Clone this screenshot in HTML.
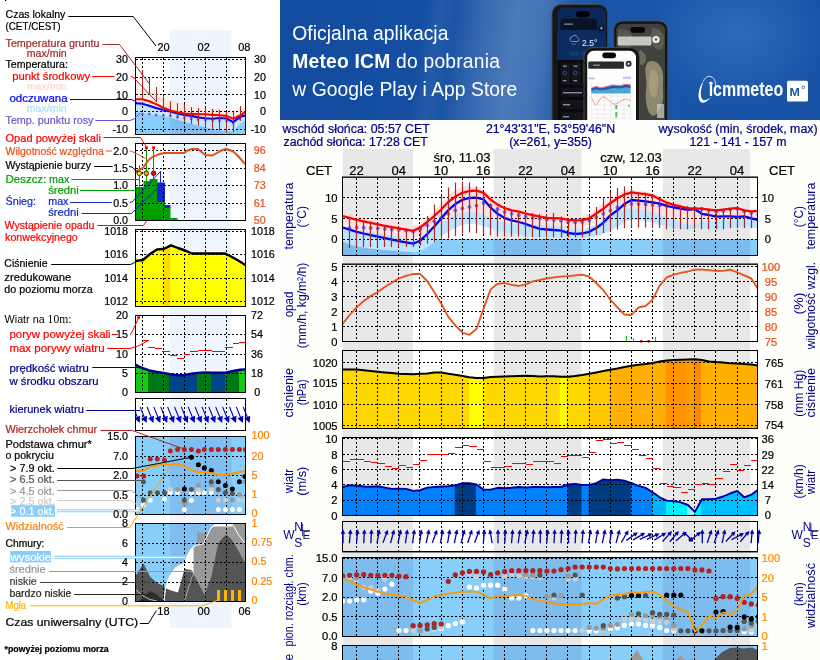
<!DOCTYPE html>
<html><head><meta charset="utf-8"><title>Meteogram</title>
<style>
html,body{margin:0;padding:0;background:#fff;}
body{width:820px;height:660px;overflow:hidden;position:relative;font-family:"Liberation Sans",sans-serif;}
svg text{font-family:"Liberation Sans",sans-serif;stroke-width:0.22px;}
#main{position:absolute;left:0;top:0;will-change:transform;}

#banner{position:absolute;left:280px;top:0;width:540px;height:120px;overflow:hidden;will-change:transform;
 background:
  radial-gradient(ellipse 95px 75px at 458px 34px, rgba(80,140,210,0.42), rgba(80,140,210,0) 100%),
  linear-gradient(98deg, rgba(255,255,255,0) 26%, rgba(255,255,255,0.07) 29%, rgba(255,255,255,0.03) 32%, rgba(255,255,255,0.15) 37%, rgba(255,255,255,0.23) 43%, rgba(255,255,255,0.19) 48%, rgba(255,255,255,0.04) 53%, rgba(255,255,255,0.0) 58%),
  linear-gradient(90deg,#134c9f 0%,#144fa2 35%,#1a56a8 60%,#1752a5 100%);}
#banner .t{position:absolute;left:12.3px;color:#fff;font-size:19.3px;white-space:nowrap;letter-spacing:0.04px;line-height:20px;}
#banner .t b{font-weight:bold;}

</style></head><body>
<svg id="main" width="820" height="660" viewBox="0 0 820 660">
<rect x="280" y="120" width="540" height="540" fill="#fefefa"/>
<rect x="342.5" y="177.5" width="415.0" height="78.0" fill="#fff"/>
<rect x="342.5" y="264.5" width="415.0" height="77.0" fill="#fff"/>
<rect x="342.5" y="350.5" width="415.0" height="78.0" fill="#fff"/>
<rect x="342.5" y="437.5" width="415.0" height="78.0" fill="#fff"/>
<rect x="342.5" y="521.5" width="415.0" height="31.0" fill="#fff"/>
<rect x="343" y="149" width="70" height="520" fill="#e8e8e8"/>
<rect x="493.7" y="149" width="87.90000000000003" height="520" fill="#e8e8e8"/>
<rect x="662.8" y="149" width="87.5" height="520" fill="#e8e8e8"/>
<clipPath id="cT"><rect x="342.5" y="177.5" width="415.0" height="78.0"/></clipPath>
<g clip-path="url(#cT)">
<rect x="342.5" y="177.5" width="415.0" height="78.0" fill="#fff"/>
<rect x="343" y="177.5" width="70" height="78.0" fill="#e8e8e8"/>
<rect x="493.7" y="177.5" width="87.90000000000003" height="78.0" fill="#e8e8e8"/>
<rect x="662.8" y="177.5" width="87.5" height="78.0" fill="#e8e8e8"/>
<rect x="342.5" y="239" width="415.0" height="16.5" fill="#87cefa"/>
<rect x="343" y="239" width="70" height="16.5" fill="#7dbbec"/>
<rect x="493.7" y="239" width="87.90000000000003" height="16.5" fill="#7dbbec"/>
<rect x="662.8" y="239" width="87.5" height="16.5" fill="#7dbbec"/>
<polygon fill="#bce6ff" points="342.6,223.5 349.6,225.7 356.7,227.8 363.7,229.5 370.8,231.2 377.8,232.7 384.9,234.2 391.9,235.6 399.0,237.1 406.0,238.4 413.1,239.7 420.1,236.8 427.2,230.0 434.2,222.5 441.2,214.4 448.3,206.1 455.3,200.1 462.4,195.8 469.4,194.0 476.5,193.6 483.5,195.3 490.6,203.5 497.6,209.8 504.7,214.1 511.7,216.3 518.8,218.0 525.8,220.0 532.8,222.6 539.9,224.9 546.9,225.5 554.0,226.0 561.0,226.6 568.1,229.0 575.1,229.8 582.2,229.5 589.2,227.8 596.3,224.0 603.3,218.8 610.3,211.4 617.4,206.3 624.4,200.0 631.5,196.0 638.5,196.7 645.6,197.4 652.6,198.4 659.7,199.6 666.7,201.8 673.8,203.5 680.8,204.7 687.9,205.9 694.9,205.2 701.9,209.8 709.0,211.0 716.0,212.7 723.1,212.4 730.1,212.4 737.2,212.9 744.2,212.4 751.3,214.4 758.3,216.1 758.3,228.6 751.3,228.0 744.2,226.8 737.2,227.4 730.1,228.0 723.1,228.6 716.0,229.2 709.0,229.2 701.9,227.4 694.9,228.0 687.9,230.3 680.8,229.2 673.8,228.0 666.7,226.2 659.7,225.0 652.6,222.5 645.6,220.9 638.5,220.0 631.5,219.5 624.4,222.5 617.4,226.8 610.3,230.7 603.3,234.0 596.3,236.3 589.2,237.8 582.2,238.4 575.1,238.4 568.1,238.4 561.0,238.2 554.0,238.0 546.9,237.9 539.9,237.8 532.8,236.9 525.8,235.9 518.8,234.7 511.7,233.5 504.7,232.3 497.6,230.7 490.6,228.6 483.5,226.2 476.5,224.1 469.4,223.4 462.4,225.0 455.3,228.0 448.3,231.7 441.2,236.5 434.2,241.8 427.2,247.5 420.1,251.2 413.1,252.4 406.0,251.8 399.0,251.2 391.9,250.6 384.9,250.0 377.8,249.3 370.8,248.7 363.7,247.5 356.7,246.3 349.6,244.5 342.6,241.4"/>
<polygon fill="#ffe0e0" points="342.6,210.7 349.6,212.6 356.7,214.6 363.7,216.1 370.8,217.6 377.8,219.1 384.9,220.7 391.9,221.9 399.0,223.1 406.0,224.6 413.1,226.2 420.1,223.7 427.2,217.5 434.2,211.0 441.2,204.2 448.3,195.0 455.3,189.6 462.4,186.5 469.4,185.9 476.5,186.3 483.5,189.6 490.6,196.3 497.6,201.2 504.7,204.2 511.7,206.2 518.8,207.3 525.8,208.5 532.8,209.8 539.9,211.0 546.9,212.8 554.0,211.9 561.0,213.4 568.1,215.2 575.1,216.4 582.2,216.4 589.2,214.0 596.3,208.5 603.3,203.0 610.3,197.8 617.4,193.9 624.4,190.8 631.5,189.6 638.5,190.8 645.6,191.4 652.6,193.2 659.7,196.9 666.7,199.3 673.8,201.2 680.8,203.6 687.9,204.8 694.9,206.7 701.9,207.3 709.0,207.9 716.0,207.9 723.1,207.9 730.1,207.3 737.2,206.7 744.2,208.2 751.3,209.7 758.3,209.7 758.3,221.3 751.3,220.0 744.2,218.9 737.2,218.9 730.1,219.5 723.1,220.0 716.0,220.7 709.0,221.3 701.9,221.3 694.9,224.6 687.9,224.4 680.8,222.2 673.8,219.5 666.7,217.6 659.7,214.6 652.6,212.1 645.6,210.3 638.5,209.1 631.5,208.5 624.4,209.1 617.4,211.5 610.3,214.3 603.3,218.6 596.3,222.1 589.2,225.0 582.2,226.2 575.1,226.8 568.1,226.8 561.0,226.2 554.0,225.6 546.9,225.3 539.9,225.0 532.8,224.6 525.8,224.1 518.8,223.9 511.7,223.7 504.7,222.5 497.6,220.7 490.6,218.2 483.5,214.6 476.5,212.5 469.4,211.9 462.4,212.8 455.3,214.6 448.3,218.9 441.2,223.0 434.2,228.0 427.2,233.5 420.1,236.5 413.1,237.8 406.0,236.9 399.0,235.9 391.9,234.9 384.9,233.9 377.8,233.1 370.8,232.3 363.7,231.4 356.7,230.4 349.6,229.2 342.6,228.0"/>
</g>
<g stroke="#000" stroke-width="1" stroke-dasharray="2 2" shape-rendering="crispEdges" fill="none"><path d="M356.5 177.5V255.5"/><path d="M377.5 177.5V255.5"/><path d="M398.5 177.5V255.5"/><path d="M419.5 177.5V255.5"/><path d="M441.5 177.5V255.5"/><path d="M462.5 177.5V255.5"/><path d="M483.5 177.5V255.5"/><path d="M504.5 177.5V255.5"/><path d="M525.5 177.5V255.5"/><path d="M546.5 177.5V255.5"/><path d="M567.5 177.5V255.5"/><path d="M589.5 177.5V255.5"/><path d="M610.5 177.5V255.5"/><path d="M631.5 177.5V255.5"/><path d="M652.5 177.5V255.5"/><path d="M673.5 177.5V255.5"/><path d="M694.5 177.5V255.5"/><path d="M715.5 177.5V255.5"/><path d="M737.5 177.5V255.5"/><path d="M342.5 197.5H757.5"/><path d="M342.5 218.5H757.5"/><path d="M342.5 239.5H757.5"/></g>
<g clip-path="url(#cT)">
<g fill="#5a5ae6" fill-opacity="0.85"><circle cx="349.6" cy="227.8" r="1.9"/><circle cx="356.7" cy="227.5" r="1.9"/><circle cx="363.7" cy="227.7" r="1.9"/><circle cx="370.8" cy="228.0" r="1.9"/><circle cx="377.8" cy="228.3" r="1.9"/><circle cx="384.9" cy="228.9" r="1.9"/><circle cx="391.9" cy="229.5" r="1.9"/><circle cx="399.0" cy="230.0" r="1.9"/><circle cx="406.0" cy="230.6" r="1.9"/><circle cx="413.1" cy="231.4" r="1.9"/><circle cx="420.1" cy="229.2" r="1.9"/><circle cx="427.2" cy="225.3" r="1.9"/><circle cx="434.2" cy="221.5" r="1.9"/><circle cx="441.2" cy="217.8" r="1.9"/><circle cx="448.3" cy="213.8" r="1.9"/><circle cx="455.3" cy="210.4" r="1.9"/><circle cx="462.4" cy="208.4" r="1.9"/><circle cx="469.4" cy="207.0" r="1.9"/><circle cx="476.5" cy="205.6" r="1.9"/><circle cx="483.5" cy="203.0" r="1.9"/><circle cx="490.6" cy="205.6" r="1.9"/><circle cx="497.6" cy="209.2" r="1.9"/><circle cx="504.7" cy="212.0" r="1.9"/><circle cx="511.7" cy="213.8" r="1.9"/><circle cx="518.8" cy="215.2" r="1.9"/><circle cx="525.8" cy="216.7" r="1.9"/><circle cx="532.8" cy="217.8" r="1.9"/><circle cx="539.9" cy="218.6" r="1.9"/><circle cx="546.9" cy="219.5" r="1.9"/><circle cx="554.0" cy="219.8" r="1.9"/><circle cx="561.0" cy="220.7" r="1.9"/><circle cx="568.1" cy="221.9" r="1.9"/><circle cx="575.1" cy="222.4" r="1.9"/><circle cx="582.2" cy="222.0" r="1.9"/><circle cx="589.2" cy="220.3" r="1.9"/><circle cx="596.3" cy="217.2" r="1.9"/><circle cx="603.3" cy="213.8" r="1.9"/><circle cx="610.3" cy="210.4" r="1.9"/><circle cx="617.4" cy="207.5" r="1.9"/><circle cx="624.4" cy="205.3" r="1.9"/><circle cx="631.5" cy="204.1" r="1.9"/><circle cx="638.5" cy="204.1" r="1.9"/><circle cx="645.6" cy="204.4" r="1.9"/><circle cx="652.6" cy="204.8" r="1.9"/><circle cx="659.7" cy="205.3" r="1.9"/><circle cx="666.7" cy="205.8" r="1.9"/><circle cx="673.8" cy="206.7" r="1.9"/><circle cx="680.8" cy="207.5" r="1.9"/><circle cx="687.9" cy="208.7" r="1.9"/><circle cx="694.9" cy="208.4" r="1.9"/><circle cx="701.9" cy="209.2" r="1.9"/><circle cx="709.0" cy="210.4" r="1.9"/><circle cx="716.0" cy="211.6" r="1.9"/><circle cx="723.1" cy="211.0" r="1.9"/><circle cx="730.1" cy="209.6" r="1.9"/><circle cx="737.2" cy="208.7" r="1.9"/><circle cx="744.2" cy="211.6" r="1.9"/><circle cx="751.3" cy="213.0" r="1.9"/><circle cx="758.3" cy="215.0" r="1.9"/></g>
<polyline fill="none" stroke="#0000ff" stroke-width="2.3" stroke-linejoin="round" points="342.6,227.5 349.6,229.7 356.7,231.8 363.7,233.5 370.8,235.2 377.8,236.7 384.9,238.2 391.9,239.6 399.0,241.1 406.0,242.4 413.1,243.7 420.1,240.8 427.2,234.0 434.2,226.5 441.2,218.4 448.3,210.1 455.3,204.1 462.4,199.8 469.4,198.0 476.5,197.6 483.5,199.3 490.6,207.5 497.6,213.8 504.7,218.1 511.7,220.3 518.8,222.0 525.8,224.0 532.8,226.6 539.9,228.9 546.9,229.5 554.0,230.0 561.0,230.6 568.1,233.0 575.1,233.8 582.2,233.5 589.2,231.8 596.3,228.0 603.3,222.8 610.3,215.4 617.4,210.3 624.4,204.0 631.5,200.0 638.5,200.7 645.6,201.4 652.6,202.4 659.7,203.6 666.7,205.8 673.8,207.5 680.8,208.7 687.9,209.9 694.9,209.2 701.9,213.8 709.0,215.0 716.0,216.7 723.1,216.4 730.1,216.4 737.2,216.9 744.2,216.4 751.3,218.4 758.3,220.1"/>
<polyline fill="none" stroke="#ff0000" stroke-width="2.3" stroke-linejoin="round" points="342.6,216.0 349.6,217.9 356.7,219.8 363.7,221.4 370.8,222.9 377.8,224.4 384.9,225.8 391.9,227.1 399.0,228.3 406.0,229.6 413.1,230.9 420.1,227.5 427.2,222.0 434.2,216.0 441.2,209.5 448.3,202.0 455.3,196.6 462.4,192.8 469.4,191.0 476.5,190.6 483.5,192.8 490.6,199.6 497.6,204.6 504.7,208.2 511.7,210.4 518.8,211.6 525.8,213.5 532.8,215.2 539.9,216.7 546.9,217.8 554.0,218.1 561.0,218.4 568.1,219.8 575.1,220.3 582.2,220.1 589.2,218.4 596.3,213.5 603.3,208.7 610.3,203.2 617.4,198.2 624.4,194.6 631.5,192.3 638.5,193.3 645.6,194.2 652.6,195.6 659.7,199.3 666.7,202.7 673.8,204.8 680.8,206.5 687.9,208.2 694.9,208.7 701.9,208.7 709.0,209.6 716.0,210.4 723.1,209.6 730.1,208.7 737.2,208.2 744.2,210.4 751.3,211.3 758.3,210.9"/>
<g stroke="#a52a2a" stroke-width="1.2"><path d="M349.5 219.0V248.0"/><path d="M356.5 219.8V248.0"/><path d="M363.5 221.5V247.0"/><path d="M370.5 221.5V247.0"/><path d="M377.5 223.0V247.0"/><path d="M384.5 225.0V247.0"/><path d="M391.5 225.8V247.0"/><path d="M398.5 226.6V247.0"/><path d="M406.5 228.3V247.0"/><path d="M413.5 230.0V247.0"/><path d="M420.5 226.6V245.4"/><path d="M427.5 216.0V243.7"/><path d="M434.5 204.4V242.0"/><path d="M441.5 196.0V239.4"/><path d="M448.5 187.4V238.6"/><path d="M455.5 182.6V236.0"/><path d="M462.5 181.4V233.5"/><path d="M469.5 182.6V232.6"/><path d="M476.5 186.5V233.0"/><path d="M483.5 192.5V234.0"/><path d="M490.5 203.6V235.2"/><path d="M497.5 207.0V236.5"/><path d="M504.5 208.7V236.5"/><path d="M511.5 210.4V236.5"/><path d="M518.5 211.3V236.5"/><path d="M525.5 213.0V236.9"/><path d="M532.5 213.0V237.2"/><path d="M539.5 213.8V237.2"/><path d="M546.5 214.7V237.2"/><path d="M553.5 213.0V237.2"/><path d="M561.5 216.4V237.2"/><path d="M568.5 218.1V237.2"/><path d="M575.5 219.0V237.2"/><path d="M582.5 218.1V237.2"/><path d="M589.5 214.7V236.0"/><path d="M596.5 207.0V234.8"/><path d="M603.5 197.6V233.1"/><path d="M610.5 191.6V231.0"/><path d="M617.5 188.0V229.5"/><path d="M624.5 186.5V228.3"/><path d="M631.5 187.4V227.0"/><path d="M638.5 192.5V227.5"/><path d="M645.5 192.5V227.5"/><path d="M652.5 194.2V228.0"/><path d="M659.5 200.2V228.0"/><path d="M666.5 202.7V229.2"/><path d="M673.5 204.4V229.2"/><path d="M680.5 205.8V229.2"/><path d="M687.5 206.1V229.2"/><path d="M694.5 207.0V229.2"/><path d="M701.5 207.0V229.2"/><path d="M708.5 208.7V229.2"/><path d="M716.5 209.6V229.2"/><path d="M723.5 208.7V229.2"/><path d="M730.5 207.9V228.3"/><path d="M737.5 207.0V228.3"/><path d="M744.5 210.4V228.3"/><path d="M751.5 211.3V228.3"/></g>
</g>
<g shape-rendering="crispEdges" fill="none" stroke-width="1"><path d="M342.5 177.5V255.5H757.5V177.5" stroke="#000"/><path d="M342.0 177.5H758.0" stroke="#222"/><path d="M342.0 176.5H758.0" stroke="#777"/></g>
<clipPath id="cP"><rect x="342.5" y="264.5" width="415.0" height="77.0"/></clipPath>
<g stroke="#000" stroke-width="1" stroke-dasharray="2 2" shape-rendering="crispEdges" fill="none"><path d="M356.5 264.5V341.5"/><path d="M377.5 264.5V341.5"/><path d="M398.5 264.5V341.5"/><path d="M419.5 264.5V341.5"/><path d="M441.5 264.5V341.5"/><path d="M462.5 264.5V341.5"/><path d="M483.5 264.5V341.5"/><path d="M504.5 264.5V341.5"/><path d="M525.5 264.5V341.5"/><path d="M546.5 264.5V341.5"/><path d="M567.5 264.5V341.5"/><path d="M589.5 264.5V341.5"/><path d="M610.5 264.5V341.5"/><path d="M631.5 264.5V341.5"/><path d="M652.5 264.5V341.5"/><path d="M673.5 264.5V341.5"/><path d="M694.5 264.5V341.5"/><path d="M715.5 264.5V341.5"/><path d="M737.5 264.5V341.5"/><path d="M342.5 266.5H757.5"/><path d="M342.5 281.5H757.5"/><path d="M342.5 296.5H757.5"/><path d="M342.5 311.5H757.5"/><path d="M342.5 326.5H757.5"/></g>
<path d="M342.5 341.5H757.5" stroke="#0a0" stroke-width="1" stroke-dasharray="3 2" shape-rendering="crispEdges"/>
<g clip-path="url(#cP)">
<polyline fill="none" stroke="#e8501a" stroke-width="1.8" stroke-linejoin="round" points="342.6,324.0 349.6,315.0 356.7,307.4 363.7,301.0 370.8,295.9 377.8,292.0 384.9,286.9 391.9,282.5 399.0,278.4 406.0,275.9 413.1,274.0 420.1,274.0 427.2,281.0 434.2,292.0 441.2,303.5 448.3,316.9 455.3,325.3 462.4,332.5 469.4,334.8 476.5,329.0 483.5,308.7 490.6,289.4 497.6,283.8 504.7,283.0 511.7,284.8 518.8,286.0 525.8,284.3 532.8,281.3 539.9,280.0 546.9,278.4 554.0,277.4 561.0,276.6 568.1,276.1 575.1,275.4 582.2,274.6 589.2,276.6 596.3,283.0 603.3,290.2 610.3,299.7 617.4,307.4 624.4,314.5 631.5,315.0 638.5,307.4 645.6,306.0 652.6,299.7 659.7,285.6 666.7,277.4 673.8,274.6 680.8,272.8 687.9,271.5 694.9,269.7 701.9,269.7 709.0,270.2 716.0,270.8 723.1,270.8 730.1,269.7 737.2,272.3 744.2,275.4 751.3,278.4 758.3,289.5"/>
</g>
<g stroke="#0c0" stroke-width="1" shape-rendering="crispEdges"><path d="M626.5 335.5V341"/><path d="M633.5 337.5V341"/><path d="M655.5 336.8V341"/></g>
<circle cx="641.4" cy="341.3" r="1.4" fill="#d00"/><circle cx="648.6" cy="341.3" r="1.4" fill="#d00"/>
<g shape-rendering="crispEdges" fill="none" stroke-width="1"><path d="M342.5 264.5V341.5H757.5V264.5" stroke="#000"/><path d="M342.0 264.5H758.0" stroke="#222"/><path d="M342.0 263.5H758.0" stroke="#777"/></g>
<clipPath id="cR"><rect x="342.5" y="350.5" width="415.0" height="78.0"/></clipPath>
<g clip-path="url(#cR)">
<clipPath id="cRp"><polygon points="342.5,428.5 342.6,369.6 349.6,369.6 356.7,369.6 363.7,370.3 370.8,371.0 377.8,371.7 384.9,372.4 391.9,373.0 399.0,373.7 406.0,373.9 413.1,374.2 420.1,373.7 427.2,373.4 434.2,372.4 441.2,372.6 448.3,373.7 455.3,374.7 462.4,376.0 469.4,377.2 476.5,378.0 483.5,378.0 490.6,377.0 497.6,376.7 504.7,376.4 511.7,376.2 518.8,375.9 525.8,375.7 532.8,376.1 539.9,376.5 546.9,376.2 554.0,376.2 561.0,376.7 568.1,376.7 575.1,376.0 582.2,375.0 589.2,373.7 596.3,372.4 603.3,371.0 610.3,369.8 617.4,368.5 624.4,367.0 631.5,365.7 638.5,364.7 645.6,364.0 652.6,362.9 659.7,361.6 666.7,360.6 673.8,360.1 680.8,359.8 687.9,359.6 694.9,359.3 701.9,360.1 709.0,361.4 716.0,362.1 723.1,362.6 730.1,363.2 737.2,363.4 744.2,364.0 751.3,364.4 758.3,365.5 757.5,428.5"/></clipPath>
<g clip-path="url(#cRp)">
<rect x="342" y="350.5" width="127.89999999999998" height="78.0" fill="#ffd800"/>
<rect x="469.4" y="350.5" width="14.700000000000045" height="78.0" fill="#ffff00"/>
<rect x="483.6" y="350.5" width="76.60000000000002" height="78.0" fill="#ffd800"/>
<rect x="559.7" y="350.5" width="7.399999999999977" height="78.0" fill="#ffff00"/>
<rect x="566.6" y="350.5" width="22.299999999999955" height="78.0" fill="#ffd800"/>
<rect x="588.4" y="350.5" width="21.5" height="78.0" fill="#ffc800"/>
<rect x="609.4" y="350.5" width="56.30000000000007" height="78.0" fill="#ffb000"/>
<rect x="665.2" y="350.5" width="22.299999999999955" height="78.0" fill="#ff9400"/>
<rect x="687" y="350.5" width="8.200000000000045" height="78.0" fill="#ff9c00"/>
<rect x="694.7" y="350.5" width="6.7999999999999545" height="78.0" fill="#ff8800"/>
<rect x="701" y="350.5" width="57.5" height="78.0" fill="#ffb000"/>
</g></g>
<g stroke="#000" stroke-width="1" stroke-dasharray="2 2" shape-rendering="crispEdges" fill="none"><path d="M356.5 350.5V428.5"/><path d="M377.5 350.5V428.5"/><path d="M398.5 350.5V428.5"/><path d="M419.5 350.5V428.5"/><path d="M441.5 350.5V428.5"/><path d="M462.5 350.5V428.5"/><path d="M483.5 350.5V428.5"/><path d="M504.5 350.5V428.5"/><path d="M525.5 350.5V428.5"/><path d="M546.5 350.5V428.5"/><path d="M567.5 350.5V428.5"/><path d="M589.5 350.5V428.5"/><path d="M610.5 350.5V428.5"/><path d="M631.5 350.5V428.5"/><path d="M652.5 350.5V428.5"/><path d="M673.5 350.5V428.5"/><path d="M694.5 350.5V428.5"/><path d="M715.5 350.5V428.5"/><path d="M737.5 350.5V428.5"/><path d="M342.5 362.5H757.5"/><path d="M342.5 383.5H757.5"/><path d="M342.5 404.5H757.5"/><path d="M342.5 425.5H757.5"/></g>
<g clip-path="url(#cR)">
<polyline fill="none" stroke="#000" stroke-width="2" stroke-linejoin="round" points="342.6,369.6 349.6,369.6 356.7,369.6 363.7,370.3 370.8,371.0 377.8,371.7 384.9,372.4 391.9,373.0 399.0,373.7 406.0,373.9 413.1,374.2 420.1,373.7 427.2,373.4 434.2,372.4 441.2,372.6 448.3,373.7 455.3,374.7 462.4,376.0 469.4,377.2 476.5,378.0 483.5,378.0 490.6,377.0 497.6,376.7 504.7,376.4 511.7,376.2 518.8,375.9 525.8,375.7 532.8,376.1 539.9,376.5 546.9,376.2 554.0,376.2 561.0,376.7 568.1,376.7 575.1,376.0 582.2,375.0 589.2,373.7 596.3,372.4 603.3,371.0 610.3,369.8 617.4,368.5 624.4,367.0 631.5,365.7 638.5,364.7 645.6,364.0 652.6,362.9 659.7,361.6 666.7,360.6 673.8,360.1 680.8,359.8 687.9,359.6 694.9,359.3 701.9,360.1 709.0,361.4 716.0,362.1 723.1,362.6 730.1,363.2 737.2,363.4 744.2,364.0 751.3,364.4 758.3,365.5"/>
</g>
<g shape-rendering="crispEdges" fill="none" stroke-width="1"><path d="M342.5 350.5V428.5H757.5V350.5" stroke="#000"/><path d="M342.0 350.5H758.0" stroke="#000"/></g>
<clipPath id="cW"><rect x="342.5" y="437.5" width="415.0" height="78.0"/></clipPath>
<g clip-path="url(#cW)">
<clipPath id="cWp"><polygon points="342.5,515.5 342.6,487.0 349.6,485.3 356.7,485.8 363.7,486.5 370.8,486.8 377.8,486.3 384.9,487.6 391.9,488.9 399.0,488.6 406.0,488.9 413.1,490.9 420.1,490.1 427.2,487.6 434.2,487.0 441.2,486.5 448.3,486.3 455.3,485.3 462.4,483.2 469.4,483.2 476.5,484.5 483.5,489.6 490.6,489.6 497.6,487.8 504.7,488.3 511.7,487.8 518.8,487.0 525.8,487.6 532.8,487.0 539.9,487.0 546.9,487.3 554.0,487.0 561.0,487.0 568.1,484.5 575.1,484.0 582.2,485.0 589.2,485.0 596.3,483.2 603.3,479.4 610.3,480.1 617.4,479.6 624.4,480.7 631.5,483.2 638.5,485.8 645.6,487.8 652.6,492.2 659.7,497.3 666.7,500.6 673.8,501.1 680.8,502.4 687.9,505.0 694.9,511.9 701.9,499.3 709.0,499.1 716.0,498.6 723.1,496.5 730.1,493.5 737.2,490.9 744.2,497.3 751.3,494.7 758.3,489.6 757.5,515.5"/></clipPath>
<g clip-path="url(#cWp)">
<rect x="342.0" y="437.5" width="113.2" height="78.0" fill="#0080ff"/>
<rect x="454.7" y="437.5" width="21.6" height="78.0" fill="#003c82"/>
<rect x="475.9" y="437.5" width="92.1" height="78.0" fill="#0080ff"/>
<rect x="567.5" y="437.5" width="14.6" height="78.0" fill="#003c82"/>
<rect x="581.6" y="437.5" width="7.5" height="78.0" fill="#0080ff"/>
<rect x="588.6" y="437.5" width="42.8" height="78.0" fill="#003c82"/>
<rect x="630.9" y="437.5" width="21.6" height="78.0" fill="#0080ff"/>
<rect x="652.0" y="437.5" width="14.6" height="78.0" fill="#00b4ff"/>
<rect x="666.1" y="437.5" width="21.6" height="78.0" fill="#00f0ff"/>
<rect x="687.3" y="437.5" width="7.5" height="78.0" fill="#80ffff"/>
<rect x="694.3" y="437.5" width="7.5" height="78.0" fill="#00f0ff"/>
<rect x="701.3" y="437.5" width="56.9" height="78.0" fill="#00bfff"/>
</g></g>
<g stroke="#000" stroke-width="1" stroke-dasharray="2 2" shape-rendering="crispEdges" fill="none"><path d="M356.5 437.5V515.5"/><path d="M377.5 437.5V515.5"/><path d="M398.5 437.5V515.5"/><path d="M419.5 437.5V515.5"/><path d="M441.5 437.5V515.5"/><path d="M462.5 437.5V515.5"/><path d="M483.5 437.5V515.5"/><path d="M504.5 437.5V515.5"/><path d="M525.5 437.5V515.5"/><path d="M546.5 437.5V515.5"/><path d="M567.5 437.5V515.5"/><path d="M589.5 437.5V515.5"/><path d="M610.5 437.5V515.5"/><path d="M631.5 437.5V515.5"/><path d="M652.5 437.5V515.5"/><path d="M673.5 437.5V515.5"/><path d="M694.5 437.5V515.5"/><path d="M715.5 437.5V515.5"/><path d="M737.5 437.5V515.5"/><path d="M342.5 438.5H757.5"/><path d="M342.5 454.5H757.5"/><path d="M342.5 469.5H757.5"/><path d="M342.5 484.5H757.5"/><path d="M342.5 500.5H757.5"/></g>
<g clip-path="url(#cW)">
<polyline fill="none" stroke="#0000a0" stroke-width="1.9" stroke-linejoin="round" points="342.6,487.0 349.6,485.3 356.7,485.8 363.7,486.5 370.8,486.8 377.8,486.3 384.9,487.6 391.9,488.9 399.0,488.6 406.0,488.9 413.1,490.9 420.1,490.1 427.2,487.6 434.2,487.0 441.2,486.5 448.3,486.3 455.3,485.3 462.4,483.2 469.4,483.2 476.5,484.5 483.5,489.6 490.6,489.6 497.6,487.8 504.7,488.3 511.7,487.8 518.8,487.0 525.8,487.6 532.8,487.0 539.9,487.0 546.9,487.3 554.0,487.0 561.0,487.0 568.1,484.5 575.1,484.0 582.2,485.0 589.2,485.0 596.3,483.2 603.3,479.4 610.3,480.1 617.4,479.6 624.4,480.7 631.5,483.2 638.5,485.8 645.6,487.8 652.6,492.2 659.7,497.3 666.7,500.6 673.8,501.1 680.8,502.4 687.9,505.0 694.9,511.9 701.9,499.3 709.0,499.1 716.0,498.6 723.1,496.5 730.1,493.5 737.2,490.9 744.2,497.3 751.3,494.7 758.3,489.6"/>
<g stroke="#ff0000" stroke-width="1" shape-rendering="crispEdges"><path d="M342.6 461.5H349.6"/><path d="M349.6 459.5H356.7"/><path d="M356.7 459.5H363.7"/><path d="M363.7 461.5H370.8"/><path d="M370.8 462.5H377.8"/><path d="M377.8 463.5H384.9"/><path d="M384.9 466.5H391.9"/><path d="M391.9 468.5H399.0"/><path d="M399.0 465.5H406.0"/><path d="M406.0 467.5H413.1"/><path d="M413.1 464.5H420.1"/><path d="M420.1 460.5H427.2"/><path d="M427.2 454.5H434.2"/><path d="M434.2 454.5H441.2"/><path d="M441.2 454.5H448.3"/><path d="M448.3 453.5H455.3"/><path d="M455.3 447.5H462.4"/><path d="M462.4 445.5H469.4"/><path d="M469.4 446.5H476.5"/><path d="M476.5 449.5H483.5"/><path d="M483.5 461.5H490.6"/><path d="M490.6 467.5H497.6"/><path d="M497.6 467.5H504.7"/><path d="M504.7 466.5H511.7"/><path d="M511.7 463.5H518.8"/><path d="M518.8 463.5H525.8"/><path d="M525.8 464.5H532.8"/><path d="M532.8 461.5H539.9"/><path d="M539.9 461.5H546.9"/><path d="M546.9 461.5H554.0"/><path d="M554.0 463.5H561.0"/><path d="M561.0 456.5H568.1"/><path d="M568.1 455.5H575.1"/><path d="M575.1 455.5H582.2"/><path d="M582.2 457.5H589.2"/><path d="M589.2 452.5H596.3"/><path d="M596.3 440.5H603.3"/><path d="M603.3 439.5H610.3"/><path d="M610.3 443.5H617.4"/><path d="M617.4 442.5H624.4"/><path d="M624.4 445.5H631.5"/><path d="M631.5 449.5H638.5"/><path d="M638.5 455.5H645.6"/><path d="M645.6 458.5H652.6"/><path d="M652.6 468.5H659.7"/><path d="M659.7 483.5H666.7"/><path d="M666.7 486.5H673.8"/><path d="M673.8 487.5H680.8"/><path d="M680.8 492.5H687.9"/><path d="M687.9 489.5H694.9"/><path d="M694.9 484.5H701.9"/><path d="M701.9 483.5H709.0"/><path d="M709.0 484.5H716.0"/><path d="M716.0 478.5H723.1"/><path d="M723.1 471.5H730.1"/><path d="M730.1 464.5H737.2"/><path d="M737.2 470.5H744.2"/><path d="M744.2 465.5H751.3"/><path d="M751.3 460.5H758.3"/></g>
</g>
<g shape-rendering="crispEdges" fill="none" stroke-width="1"><path d="M342.5 437.5V515.5H757.5V437.5" stroke="#000"/><path d="M342.0 437.5H758.0" stroke="#000"/></g>
<g stroke="#000" stroke-width="1" stroke-dasharray="2 2" shape-rendering="crispEdges" fill="none"><path d="M356.5 521.5V552.5"/><path d="M377.5 521.5V552.5"/><path d="M398.5 521.5V552.5"/><path d="M419.5 521.5V552.5"/><path d="M441.5 521.5V552.5"/><path d="M462.5 521.5V552.5"/><path d="M483.5 521.5V552.5"/><path d="M504.5 521.5V552.5"/><path d="M525.5 521.5V552.5"/><path d="M546.5 521.5V552.5"/><path d="M567.5 521.5V552.5"/><path d="M589.5 521.5V552.5"/><path d="M610.5 521.5V552.5"/><path d="M631.5 521.5V552.5"/><path d="M652.5 521.5V552.5"/><path d="M673.5 521.5V552.5"/><path d="M694.5 521.5V552.5"/><path d="M715.5 521.5V552.5"/><path d="M737.5 521.5V552.5"/></g>
<g shape-rendering="crispEdges" fill="none" stroke-width="1"><path d="M342.5 521.5V552.5M757.5 521.5V552.5" stroke="#000"/><path d="M342.0 521.5H758.0" stroke="#000"/><path d="M342.0 551.5H758.0" stroke="#000"/><path d="M342.0 552.5H758.0" stroke="#8a8a8a"/></g>
<g stroke="#0000a8" stroke-width="1.3" fill="#0000a8"><g transform="translate(343.0,536.5) rotate(0)"><path d="M0 6.8V-3.8" fill="none"/><path d="M0 -7.3L-2.3 -2.8H2.3Z" stroke="none"/></g><g transform="translate(350.0,536.5) rotate(5)"><path d="M0 6.8V-3.8" fill="none"/><path d="M0 -7.3L-2.3 -2.8H2.3Z" stroke="none"/></g><g transform="translate(357.1,536.5) rotate(5)"><path d="M0 6.8V-3.8" fill="none"/><path d="M0 -7.3L-2.3 -2.8H2.3Z" stroke="none"/></g><g transform="translate(364.1,536.5) rotate(3)"><path d="M0 6.8V-3.8" fill="none"/><path d="M0 -7.3L-2.3 -2.8H2.3Z" stroke="none"/></g><g transform="translate(371.2,536.5) rotate(3)"><path d="M0 6.8V-3.8" fill="none"/><path d="M0 -7.3L-2.3 -2.8H2.3Z" stroke="none"/></g><g transform="translate(378.2,536.5) rotate(10)"><path d="M0 6.8V-3.8" fill="none"/><path d="M0 -7.3L-2.3 -2.8H2.3Z" stroke="none"/></g><g transform="translate(385.3,536.5) rotate(20)"><path d="M0 6.8V-3.8" fill="none"/><path d="M0 -7.3L-2.3 -2.8H2.3Z" stroke="none"/></g><g transform="translate(392.3,536.5) rotate(15)"><path d="M0 6.8V-3.8" fill="none"/><path d="M0 -7.3L-2.3 -2.8H2.3Z" stroke="none"/></g><g transform="translate(399.4,536.5) rotate(12)"><path d="M0 6.8V-3.8" fill="none"/><path d="M0 -7.3L-2.3 -2.8H2.3Z" stroke="none"/></g><g transform="translate(406.4,536.5) rotate(8)"><path d="M0 6.8V-3.8" fill="none"/><path d="M0 -7.3L-2.3 -2.8H2.3Z" stroke="none"/></g><g transform="translate(413.5,536.5) rotate(8)"><path d="M0 6.8V-3.8" fill="none"/><path d="M0 -7.3L-2.3 -2.8H2.3Z" stroke="none"/></g><g transform="translate(420.5,536.5) rotate(8)"><path d="M0 6.8V-3.8" fill="none"/><path d="M0 -7.3L-2.3 -2.8H2.3Z" stroke="none"/></g><g transform="translate(427.6,536.5) rotate(12)"><path d="M0 6.8V-3.8" fill="none"/><path d="M0 -7.3L-2.3 -2.8H2.3Z" stroke="none"/></g><g transform="translate(434.6,536.5) rotate(20)"><path d="M0 6.8V-3.8" fill="none"/><path d="M0 -7.3L-2.3 -2.8H2.3Z" stroke="none"/></g><g transform="translate(441.6,536.5) rotate(10)"><path d="M0 6.8V-3.8" fill="none"/><path d="M0 -7.3L-2.3 -2.8H2.3Z" stroke="none"/></g><g transform="translate(448.7,536.5) rotate(10)"><path d="M0 6.8V-3.8" fill="none"/><path d="M0 -7.3L-2.3 -2.8H2.3Z" stroke="none"/></g><g transform="translate(455.7,536.5) rotate(12)"><path d="M0 6.8V-3.8" fill="none"/><path d="M0 -7.3L-2.3 -2.8H2.3Z" stroke="none"/></g><g transform="translate(462.8,536.5) rotate(15)"><path d="M0 6.8V-3.8" fill="none"/><path d="M0 -7.3L-2.3 -2.8H2.3Z" stroke="none"/></g><g transform="translate(469.8,536.5) rotate(18)"><path d="M0 6.8V-3.8" fill="none"/><path d="M0 -7.3L-2.3 -2.8H2.3Z" stroke="none"/></g><g transform="translate(476.9,536.5) rotate(20)"><path d="M0 6.8V-3.8" fill="none"/><path d="M0 -7.3L-2.3 -2.8H2.3Z" stroke="none"/></g><g transform="translate(483.9,536.5) rotate(5)"><path d="M0 6.8V-3.8" fill="none"/><path d="M0 -7.3L-2.3 -2.8H2.3Z" stroke="none"/></g><g transform="translate(491.0,536.5) rotate(-10)"><path d="M0 6.8V-3.8" fill="none"/><path d="M0 -7.3L-2.3 -2.8H2.3Z" stroke="none"/></g><g transform="translate(498.0,536.5) rotate(0)"><path d="M0 6.8V-3.8" fill="none"/><path d="M0 -7.3L-2.3 -2.8H2.3Z" stroke="none"/></g><g transform="translate(505.1,536.5) rotate(3)"><path d="M0 6.8V-3.8" fill="none"/><path d="M0 -7.3L-2.3 -2.8H2.3Z" stroke="none"/></g><g transform="translate(512.1,536.5) rotate(5)"><path d="M0 6.8V-3.8" fill="none"/><path d="M0 -7.3L-2.3 -2.8H2.3Z" stroke="none"/></g><g transform="translate(519.1,536.5) rotate(8)"><path d="M0 6.8V-3.8" fill="none"/><path d="M0 -7.3L-2.3 -2.8H2.3Z" stroke="none"/></g><g transform="translate(526.2,536.5) rotate(12)"><path d="M0 6.8V-3.8" fill="none"/><path d="M0 -7.3L-2.3 -2.8H2.3Z" stroke="none"/></g><g transform="translate(533.2,536.5) rotate(5)"><path d="M0 6.8V-3.8" fill="none"/><path d="M0 -7.3L-2.3 -2.8H2.3Z" stroke="none"/></g><g transform="translate(540.3,536.5) rotate(0)"><path d="M0 6.8V-3.8" fill="none"/><path d="M0 -7.3L-2.3 -2.8H2.3Z" stroke="none"/></g><g transform="translate(547.3,536.5) rotate(5)"><path d="M0 6.8V-3.8" fill="none"/><path d="M0 -7.3L-2.3 -2.8H2.3Z" stroke="none"/></g><g transform="translate(554.4,536.5) rotate(3)"><path d="M0 6.8V-3.8" fill="none"/><path d="M0 -7.3L-2.3 -2.8H2.3Z" stroke="none"/></g><g transform="translate(561.4,536.5) rotate(3)"><path d="M0 6.8V-3.8" fill="none"/><path d="M0 -7.3L-2.3 -2.8H2.3Z" stroke="none"/></g><g transform="translate(568.5,536.5) rotate(0)"><path d="M0 6.8V-3.8" fill="none"/><path d="M0 -7.3L-2.3 -2.8H2.3Z" stroke="none"/></g><g transform="translate(575.5,536.5) rotate(3)"><path d="M0 6.8V-3.8" fill="none"/><path d="M0 -7.3L-2.3 -2.8H2.3Z" stroke="none"/></g><g transform="translate(582.6,536.5) rotate(5)"><path d="M0 6.8V-3.8" fill="none"/><path d="M0 -7.3L-2.3 -2.8H2.3Z" stroke="none"/></g><g transform="translate(589.6,536.5) rotate(10)"><path d="M0 6.8V-3.8" fill="none"/><path d="M0 -7.3L-2.3 -2.8H2.3Z" stroke="none"/></g><g transform="translate(596.7,536.5) rotate(10)"><path d="M0 6.8V-3.8" fill="none"/><path d="M0 -7.3L-2.3 -2.8H2.3Z" stroke="none"/></g><g transform="translate(603.7,536.5) rotate(12)"><path d="M0 6.8V-3.8" fill="none"/><path d="M0 -7.3L-2.3 -2.8H2.3Z" stroke="none"/></g><g transform="translate(610.7,536.5) rotate(10)"><path d="M0 6.8V-3.8" fill="none"/><path d="M0 -7.3L-2.3 -2.8H2.3Z" stroke="none"/></g><g transform="translate(617.8,536.5) rotate(15)"><path d="M0 6.8V-3.8" fill="none"/><path d="M0 -7.3L-2.3 -2.8H2.3Z" stroke="none"/></g><g transform="translate(624.8,536.5) rotate(30)"><path d="M0 6.8V-3.8" fill="none"/><path d="M0 -7.3L-2.3 -2.8H2.3Z" stroke="none"/></g><g transform="translate(631.9,536.5) rotate(55)"><path d="M0 6.8V-3.8" fill="none"/><path d="M0 -7.3L-2.3 -2.8H2.3Z" stroke="none"/></g><g transform="translate(638.9,536.5) rotate(60)"><path d="M0 6.8V-3.8" fill="none"/><path d="M0 -7.3L-2.3 -2.8H2.3Z" stroke="none"/></g><g transform="translate(646.0,536.5) rotate(65)"><path d="M0 6.8V-3.8" fill="none"/><path d="M0 -7.3L-2.3 -2.8H2.3Z" stroke="none"/></g><g transform="translate(653.0,536.5) rotate(65)"><path d="M0 6.8V-3.8" fill="none"/><path d="M0 -7.3L-2.3 -2.8H2.3Z" stroke="none"/></g><g transform="translate(660.1,536.5) rotate(58)"><path d="M0 6.8V-3.8" fill="none"/><path d="M0 -7.3L-2.3 -2.8H2.3Z" stroke="none"/></g><g transform="translate(667.1,536.5) rotate(42)"><path d="M0 6.8V-3.8" fill="none"/><path d="M0 -7.3L-2.3 -2.8H2.3Z" stroke="none"/></g><g transform="translate(674.2,536.5) rotate(40)"><path d="M0 6.8V-3.8" fill="none"/><path d="M0 -7.3L-2.3 -2.8H2.3Z" stroke="none"/></g><g transform="translate(681.2,536.5) rotate(50)"><path d="M0 6.8V-3.8" fill="none"/><path d="M0 -7.3L-2.3 -2.8H2.3Z" stroke="none"/></g><g transform="translate(688.3,536.5) rotate(135)"><path d="M0 6.8V-3.8" fill="none"/><path d="M0 -7.3L-2.3 -2.8H2.3Z" stroke="none"/></g><g transform="translate(695.3,536.5) rotate(50)"><path d="M0 6.8V-3.8" fill="none"/><path d="M0 -7.3L-2.3 -2.8H2.3Z" stroke="none"/></g><g transform="translate(702.3,536.5) rotate(0)"><path d="M0 6.8V-3.8" fill="none"/><path d="M0 -7.3L-2.3 -2.8H2.3Z" stroke="none"/></g><g transform="translate(709.4,536.5) rotate(18)"><path d="M0 6.8V-3.8" fill="none"/><path d="M0 -7.3L-2.3 -2.8H2.3Z" stroke="none"/></g><g transform="translate(716.4,536.5) rotate(18)"><path d="M0 6.8V-3.8" fill="none"/><path d="M0 -7.3L-2.3 -2.8H2.3Z" stroke="none"/></g><g transform="translate(723.5,536.5) rotate(12)"><path d="M0 6.8V-3.8" fill="none"/><path d="M0 -7.3L-2.3 -2.8H2.3Z" stroke="none"/></g><g transform="translate(730.5,536.5) rotate(43)"><path d="M0 6.8V-3.8" fill="none"/><path d="M0 -7.3L-2.3 -2.8H2.3Z" stroke="none"/></g><g transform="translate(737.6,536.5) rotate(62)"><path d="M0 6.8V-3.8" fill="none"/><path d="M0 -7.3L-2.3 -2.8H2.3Z" stroke="none"/></g><g transform="translate(744.6,536.5) rotate(40)"><path d="M0 6.8V-3.8" fill="none"/><path d="M0 -7.3L-2.3 -2.8H2.3Z" stroke="none"/></g><g transform="translate(751.7,536.5) rotate(5)"><path d="M0 6.8V-3.8" fill="none"/><path d="M0 -7.3L-2.3 -2.8H2.3Z" stroke="none"/></g><g transform="translate(758.7,536.5) rotate(5)"><path d="M0 6.8V-3.8" fill="none"/><path d="M0 -7.3L-2.3 -2.8H2.3Z" stroke="none"/></g></g>
<circle cx="690.5" cy="539.7" r="2" fill="#0000a8"/>
<clipPath id="cC"><rect x="342.5" y="557.5" width="415.0" height="79.0"/></clipPath>
<rect x="342.5" y="557.5" width="415.0" height="79.0" fill="#87cefa"/>
<rect x="343" y="557.5" width="70" height="79.0" fill="#7fbcee"/>
<rect x="493.7" y="557.5" width="87.90000000000003" height="79.0" fill="#7fbcee"/>
<rect x="662.8" y="557.5" width="87.5" height="79.0" fill="#7fbcee"/>
<g stroke="#000" stroke-width="1" stroke-dasharray="2 2" shape-rendering="crispEdges" fill="none"><path d="M356.5 557.5V636.5"/><path d="M377.5 557.5V636.5"/><path d="M398.5 557.5V636.5"/><path d="M419.5 557.5V636.5"/><path d="M441.5 557.5V636.5"/><path d="M462.5 557.5V636.5"/><path d="M483.5 557.5V636.5"/><path d="M504.5 557.5V636.5"/><path d="M525.5 557.5V636.5"/><path d="M546.5 557.5V636.5"/><path d="M567.5 557.5V636.5"/><path d="M589.5 557.5V636.5"/><path d="M610.5 557.5V636.5"/><path d="M631.5 557.5V636.5"/><path d="M652.5 557.5V636.5"/><path d="M673.5 557.5V636.5"/><path d="M694.5 557.5V636.5"/><path d="M715.5 557.5V636.5"/><path d="M737.5 557.5V636.5"/><path d="M342.5 558.5H757.5"/><path d="M342.5 577.5H757.5"/><path d="M342.5 597.5H757.5"/><path d="M342.5 616.5H757.5"/></g>
<g clip-path="url(#cC)">
<circle cx="342.6" cy="601.0" r="2.6" fill="#fff"/>
<circle cx="349.6" cy="601.0" r="2.6" fill="#fff"/>
<circle cx="356.7" cy="599.8" r="2.6" fill="#fff"/>
<circle cx="363.7" cy="599.8" r="2.6" fill="#fff"/>
<circle cx="370.8" cy="591.2" r="2.6" fill="#fff"/>
<circle cx="377.8" cy="593.3" r="2.6" fill="#fff"/>
<circle cx="384.9" cy="589.0" r="2.6" fill="#fff"/>
<circle cx="391.9" cy="584.2" r="2.6" fill="#fff"/>
<circle cx="399.0" cy="630.5" r="2.6" fill="#fff"/>
<circle cx="406.0" cy="630.5" r="2.6" fill="#fff"/>
<circle cx="441.2" cy="629.0" r="2.6" fill="#fff"/>
<circle cx="448.3" cy="625.7" r="2.6" fill="#fff"/>
<circle cx="455.3" cy="623.7" r="2.6" fill="#fff"/>
<circle cx="462.4" cy="621.8" r="2.6" fill="#fff"/>
<circle cx="469.4" cy="587.0" r="2.6" fill="#fff"/>
<circle cx="476.5" cy="588.0" r="2.6" fill="#fff"/>
<circle cx="483.5" cy="585.2" r="2.6" fill="#fff"/>
<circle cx="490.6" cy="585.2" r="2.6" fill="#fff"/>
<circle cx="497.6" cy="585.2" r="2.6" fill="#fff"/>
<circle cx="504.7" cy="589.0" r="2.6" fill="#fff"/>
<circle cx="511.7" cy="598.0" r="2.6" fill="#fff"/>
<circle cx="518.8" cy="598.0" r="2.6" fill="#fff"/>
<circle cx="525.8" cy="595.8" r="2.6" fill="#fff"/>
<circle cx="532.8" cy="630.5" r="2.6" fill="#fff"/>
<circle cx="539.9" cy="630.5" r="2.6" fill="#fff"/>
<circle cx="546.9" cy="630.5" r="2.6" fill="#fff"/>
<circle cx="554.0" cy="630.5" r="2.6" fill="#fff"/>
<circle cx="561.0" cy="630.5" r="2.6" fill="#fff"/>
<circle cx="568.1" cy="630.5" r="2.6" fill="#fff"/>
<circle cx="575.1" cy="630.5" r="2.6" fill="#fff"/>
<circle cx="589.2" cy="630.8" r="2.6" fill="#fff"/>
<circle cx="596.3" cy="630.8" r="2.6" fill="#fff"/>
<circle cx="610.3" cy="628.8" r="2.6" fill="#fff"/>
<circle cx="617.4" cy="627.8" r="2.6" fill="#fff"/>
<circle cx="624.4" cy="625.4" r="2.6" fill="#fff"/>
<circle cx="631.5" cy="624.0" r="2.6" fill="#fff"/>
<circle cx="638.5" cy="624.0" r="2.6" fill="#fff"/>
<circle cx="645.6" cy="625.4" r="2.6" fill="#fff"/>
<circle cx="652.6" cy="625.7" r="2.6" fill="#fff"/>
<circle cx="659.7" cy="627.4" r="2.6" fill="#fff"/>
<circle cx="666.7" cy="630.5" r="2.6" fill="#fff"/>
<circle cx="673.8" cy="630.8" r="2.6" fill="#fff"/>
<circle cx="744.2" cy="631.7" r="2.6" fill="#fff"/>
<circle cx="751.3" cy="631.7" r="2.6" fill="#fff"/>
<circle cx="349.6" cy="577.0" r="2.6" fill="#ccc"/>
<circle cx="356.7" cy="579.6" r="2.6" fill="#ccc"/>
<circle cx="363.7" cy="587.3" r="2.6" fill="#ccc"/>
<circle cx="370.8" cy="587.8" r="2.6" fill="#ccc"/>
<circle cx="377.8" cy="590.7" r="2.6" fill="#ccc"/>
<circle cx="384.9" cy="579.3" r="2.6" fill="#ccc"/>
<circle cx="413.1" cy="630.8" r="2.6" fill="#ccc"/>
<circle cx="427.2" cy="631.7" r="2.6" fill="#ccc"/>
<circle cx="434.2" cy="630.0" r="2.6" fill="#ccc"/>
<circle cx="441.2" cy="627.4" r="2.6" fill="#ccc"/>
<circle cx="469.4" cy="574.0" r="2.6" fill="#ccc"/>
<circle cx="476.5" cy="576.2" r="2.6" fill="#ccc"/>
<circle cx="504.7" cy="576.2" r="2.6" fill="#ccc"/>
<circle cx="511.7" cy="574.5" r="2.6" fill="#ccc"/>
<circle cx="518.8" cy="575.9" r="2.6" fill="#ccc"/>
<circle cx="525.8" cy="577.0" r="2.6" fill="#ccc"/>
<circle cx="532.8" cy="577.0" r="2.6" fill="#ccc"/>
<circle cx="539.9" cy="577.6" r="2.6" fill="#ccc"/>
<circle cx="568.1" cy="578.8" r="2.6" fill="#ccc"/>
<circle cx="575.1" cy="578.8" r="2.6" fill="#ccc"/>
<circle cx="554.0" cy="598.0" r="2.6" fill="#ccc"/>
<circle cx="582.2" cy="630.5" r="2.6" fill="#ccc"/>
<circle cx="603.3" cy="630.5" r="2.6" fill="#ccc"/>
<circle cx="624.4" cy="619.4" r="2.6" fill="#ccc"/>
<circle cx="631.5" cy="618.9" r="2.6" fill="#ccc"/>
<circle cx="638.5" cy="618.9" r="2.6" fill="#ccc"/>
<circle cx="645.6" cy="619.7" r="2.6" fill="#ccc"/>
<circle cx="652.6" cy="621.4" r="2.6" fill="#ccc"/>
<circle cx="659.7" cy="622.0" r="2.6" fill="#ccc"/>
<circle cx="666.7" cy="622.3" r="2.6" fill="#ccc"/>
<circle cx="673.8" cy="629.0" r="2.6" fill="#ccc"/>
<circle cx="751.3" cy="630.0" r="2.6" fill="#ccc"/>
<circle cx="758.3" cy="625.7" r="2.6" fill="#ccc"/>
<circle cx="356.7" cy="577.9" r="2.6" fill="#999"/>
<circle cx="420.1" cy="630.8" r="2.6" fill="#999"/>
<circle cx="525.8" cy="574.5" r="2.6" fill="#999"/>
<circle cx="532.8" cy="575.3" r="2.6" fill="#999"/>
<circle cx="568.1" cy="576.2" r="2.6" fill="#999"/>
<circle cx="546.9" cy="596.2" r="2.6" fill="#999"/>
<circle cx="561.0" cy="595.8" r="2.6" fill="#999"/>
<circle cx="589.2" cy="627.4" r="2.6" fill="#999"/>
<circle cx="596.3" cy="628.3" r="2.6" fill="#999"/>
<circle cx="603.3" cy="628.3" r="2.6" fill="#999"/>
<circle cx="610.3" cy="625.4" r="2.6" fill="#999"/>
<circle cx="617.4" cy="624.3" r="2.6" fill="#999"/>
<circle cx="631.5" cy="614.6" r="2.6" fill="#999"/>
<circle cx="645.6" cy="615.5" r="2.6" fill="#999"/>
<circle cx="652.6" cy="615.5" r="2.6" fill="#999"/>
<circle cx="659.7" cy="616.3" r="2.6" fill="#999"/>
<circle cx="666.7" cy="617.2" r="2.6" fill="#999"/>
<circle cx="673.8" cy="625.7" r="2.6" fill="#999"/>
<circle cx="744.2" cy="629.0" r="2.6" fill="#999"/>
<circle cx="751.3" cy="625.7" r="2.6" fill="#999"/>
<circle cx="427.2" cy="629.0" r="2.6" fill="#555"/>
<circle cx="434.2" cy="627.4" r="2.6" fill="#555"/>
<circle cx="539.9" cy="575.3" r="2.6" fill="#555"/>
<circle cx="575.1" cy="575.0" r="2.6" fill="#555"/>
<circle cx="554.0" cy="595.0" r="2.6" fill="#555"/>
<circle cx="582.2" cy="595.0" r="2.6" fill="#555"/>
<circle cx="617.4" cy="598.0" r="2.6" fill="#555"/>
<circle cx="603.3" cy="625.7" r="2.6" fill="#555"/>
<circle cx="624.4" cy="596.7" r="2.6" fill="#555"/>
<circle cx="645.6" cy="595.5" r="2.6" fill="#555"/>
<circle cx="638.5" cy="613.8" r="2.6" fill="#555"/>
<circle cx="652.6" cy="612.6" r="2.6" fill="#555"/>
<circle cx="659.7" cy="614.3" r="2.6" fill="#555"/>
<circle cx="666.7" cy="614.3" r="2.6" fill="#555"/>
<circle cx="673.8" cy="615.0" r="2.6" fill="#555"/>
<circle cx="680.8" cy="630.8" r="2.6" fill="#555"/>
<circle cx="687.9" cy="630.8" r="2.6" fill="#555"/>
<circle cx="709.0" cy="630.8" r="2.6" fill="#555"/>
<circle cx="716.0" cy="630.8" r="2.6" fill="#555"/>
<circle cx="723.1" cy="630.5" r="2.6" fill="#555"/>
<circle cx="730.1" cy="630.5" r="2.6" fill="#555"/>
<circle cx="737.2" cy="630.5" r="2.6" fill="#555"/>
<circle cx="744.2" cy="621.4" r="2.6" fill="#555"/>
<circle cx="751.3" cy="623.0" r="2.6" fill="#555"/>
<circle cx="758.3" cy="621.4" r="2.6" fill="#555"/>
<circle cx="631.5" cy="595.5" r="2.6" fill="#000"/>
<circle cx="638.5" cy="595.5" r="2.6" fill="#000"/>
<circle cx="666.7" cy="595.0" r="2.6" fill="#000"/>
<circle cx="673.8" cy="595.0" r="2.6" fill="#000"/>
<circle cx="680.8" cy="595.0" r="2.6" fill="#000"/>
<circle cx="694.9" cy="630.8" r="2.6" fill="#000"/>
<circle cx="701.9" cy="630.8" r="2.6" fill="#000"/>
<circle cx="716.0" cy="612.0" r="2.6" fill="#000"/>
<circle cx="723.1" cy="611.5" r="2.6" fill="#000"/>
<circle cx="730.1" cy="627.0" r="2.6" fill="#000"/>
<circle cx="737.2" cy="627.4" r="2.6" fill="#000"/>
<circle cx="744.2" cy="616.8" r="2.6" fill="#000"/>
<circle cx="751.3" cy="618.9" r="2.6" fill="#000"/>
<circle cx="758.3" cy="616.8" r="2.6" fill="#000"/>
<circle cx="342.6" cy="575.9" r="2.6" fill="#b22222"/>
<circle cx="349.6" cy="575.3" r="2.6" fill="#b22222"/>
<circle cx="356.7" cy="574.8" r="2.6" fill="#b22222"/>
<circle cx="363.7" cy="574.5" r="2.6" fill="#b22222"/>
<circle cx="370.8" cy="575.3" r="2.6" fill="#b22222"/>
<circle cx="377.8" cy="575.3" r="2.6" fill="#b22222"/>
<circle cx="384.9" cy="575.3" r="2.6" fill="#b22222"/>
<circle cx="391.9" cy="575.3" r="2.6" fill="#b22222"/>
<circle cx="399.0" cy="576.2" r="2.6" fill="#b22222"/>
<circle cx="406.0" cy="576.7" r="2.6" fill="#b22222"/>
<circle cx="413.1" cy="625.7" r="2.6" fill="#b22222"/>
<circle cx="420.1" cy="625.4" r="2.6" fill="#b22222"/>
<circle cx="427.2" cy="624.9" r="2.6" fill="#b22222"/>
<circle cx="434.2" cy="623.5" r="2.6" fill="#b22222"/>
<circle cx="441.2" cy="624.0" r="2.6" fill="#b22222"/>
<circle cx="448.3" cy="581.3" r="2.6" fill="#b22222"/>
<circle cx="455.3" cy="574.8" r="2.6" fill="#b22222"/>
<circle cx="462.4" cy="572.8" r="2.6" fill="#b22222"/>
<circle cx="469.4" cy="571.4" r="2.6" fill="#b22222"/>
<circle cx="476.5" cy="571.4" r="2.6" fill="#b22222"/>
<circle cx="483.5" cy="571.9" r="2.6" fill="#b22222"/>
<circle cx="490.6" cy="574.5" r="2.6" fill="#b22222"/>
<circle cx="497.6" cy="572.8" r="2.6" fill="#b22222"/>
<circle cx="504.7" cy="571.6" r="2.6" fill="#b22222"/>
<circle cx="511.7" cy="570.7" r="2.6" fill="#b22222"/>
<circle cx="518.8" cy="570.7" r="2.6" fill="#b22222"/>
<circle cx="525.8" cy="570.7" r="2.6" fill="#b22222"/>
<circle cx="532.8" cy="570.7" r="2.6" fill="#b22222"/>
<circle cx="539.9" cy="570.7" r="2.6" fill="#b22222"/>
<circle cx="546.9" cy="571.0" r="2.6" fill="#b22222"/>
<circle cx="554.0" cy="571.0" r="2.6" fill="#b22222"/>
<circle cx="561.0" cy="569.7" r="2.6" fill="#b22222"/>
<circle cx="568.1" cy="568.5" r="2.6" fill="#b22222"/>
<circle cx="575.1" cy="567.0" r="2.6" fill="#b22222"/>
<circle cx="582.2" cy="567.0" r="2.6" fill="#b22222"/>
<circle cx="589.2" cy="567.0" r="2.6" fill="#b22222"/>
<circle cx="596.3" cy="567.0" r="2.6" fill="#b22222"/>
<circle cx="603.3" cy="567.0" r="2.6" fill="#b22222"/>
<circle cx="610.3" cy="568.5" r="2.6" fill="#b22222"/>
<circle cx="617.4" cy="568.9" r="2.6" fill="#b22222"/>
<circle cx="624.4" cy="568.5" r="2.6" fill="#b22222"/>
<circle cx="631.5" cy="568.5" r="2.6" fill="#b22222"/>
<circle cx="638.5" cy="568.5" r="2.6" fill="#b22222"/>
<circle cx="645.6" cy="568.5" r="2.6" fill="#b22222"/>
<circle cx="652.6" cy="568.5" r="2.6" fill="#b22222"/>
<circle cx="659.7" cy="568.5" r="2.6" fill="#b22222"/>
<circle cx="666.7" cy="568.5" r="2.6" fill="#b22222"/>
<circle cx="673.8" cy="568.5" r="2.6" fill="#b22222"/>
<circle cx="680.8" cy="568.5" r="2.6" fill="#b22222"/>
<circle cx="687.9" cy="568.5" r="2.6" fill="#b22222"/>
<circle cx="694.9" cy="569.9" r="2.6" fill="#b22222"/>
<circle cx="701.9" cy="569.9" r="2.6" fill="#b22222"/>
<circle cx="709.0" cy="571.0" r="2.6" fill="#b22222"/>
<circle cx="716.0" cy="598.4" r="2.6" fill="#b22222"/>
<circle cx="723.1" cy="596.7" r="2.6" fill="#b22222"/>
<circle cx="730.1" cy="596.7" r="2.6" fill="#b22222"/>
<circle cx="737.2" cy="598.4" r="2.6" fill="#b22222"/>
<circle cx="744.2" cy="602.3" r="2.6" fill="#b22222"/>
<circle cx="751.3" cy="603.9" r="2.6" fill="#b22222"/>
<circle cx="758.3" cy="605.2" r="2.6" fill="#b22222"/>
<polyline fill="none" stroke="#ff9900" stroke-width="1.8" stroke-linejoin="round" points="342.6,578.2 349.6,581.3 356.7,584.7 363.7,587.3 370.8,589.5 377.8,591.6 384.9,593.3 391.9,594.6 399.0,595.5 406.0,596.7 413.1,600.1 420.1,603.0 427.2,600.1 434.2,596.2 441.2,595.5 448.3,593.6 455.3,592.6 462.4,591.9 469.4,591.6 476.5,591.6 483.5,594.5 490.6,598.4 497.6,595.8 504.7,596.2 511.7,595.5 518.8,595.0 525.8,595.8 532.8,599.2 539.9,601.0 546.9,601.8 554.0,603.5 561.0,604.0 568.1,603.9 575.1,604.0 582.2,604.4 589.2,603.0 596.3,604.0 603.3,599.2 610.3,595.8 617.4,594.6 624.4,594.1 631.5,591.9 638.5,592.9 645.6,591.9 652.6,591.6 659.7,594.6 666.7,601.0 673.8,606.0 680.8,609.5 687.9,612.0 694.9,631.7 701.9,624.9 709.0,616.3 716.0,618.5 723.1,612.4 730.1,614.6 737.2,610.3 744.2,595.8 751.3,594.1 758.3,585.6"/>
</g>
<g shape-rendering="crispEdges" fill="none" stroke-width="1"><path d="M342.5 557.5V636.5H757.5V557.5" stroke="#000"/><path d="M342.0 557.5H758.0" stroke="#000"/></g>
<rect x="342.5" y="645.5" width="415.0" height="54.5" fill="#87cefa"/>
<rect x="343" y="645.5" width="70" height="54.5" fill="#7fbcee"/>
<rect x="493.7" y="645.5" width="87.90000000000003" height="54.5" fill="#7fbcee"/>
<rect x="662.8" y="645.5" width="87.5" height="54.5" fill="#7fbcee"/>
<polygon fill="#999" points="629.5,660 637,650 643.5,660"/>
<polygon fill="#999" points="676,660 680.4,655.5 685,660"/>
<polygon fill="#555" points="714,660 722,652 730,648 737,647.5 744,648.5 752,647.5 757.5,650 757.5,660"/>
<g stroke="#000" stroke-width="1" stroke-dasharray="2 2" shape-rendering="crispEdges" fill="none"><path d="M356.5 645.5V700"/><path d="M377.5 645.5V700"/><path d="M398.5 645.5V700"/><path d="M419.5 645.5V700"/><path d="M441.5 645.5V700"/><path d="M462.5 645.5V700"/><path d="M483.5 645.5V700"/><path d="M504.5 645.5V700"/><path d="M525.5 645.5V700"/><path d="M546.5 645.5V700"/><path d="M567.5 645.5V700"/><path d="M589.5 645.5V700"/><path d="M610.5 645.5V700"/><path d="M631.5 645.5V700"/><path d="M652.5 645.5V700"/><path d="M673.5 645.5V700"/><path d="M694.5 645.5V700"/><path d="M715.5 645.5V700"/><path d="M737.5 645.5V700"/></g>
<g shape-rendering="crispEdges" fill="none" stroke-width="1"><path d="M342.5 645.5V700H757.5V645.5" stroke="#000"/><path d="M342.0 645.5H758.0" stroke="#000"/></g>
<g fill="#00008b" font-size="12">
<text x="282.5" y="133" font-size="12.4" fill="#00008b" stroke="#00008b" text-anchor="start" >wschód słońca: 05:57 CET</text>
<text x="283.5" y="146" font-size="12.3" fill="#00008b" stroke="#00008b" text-anchor="start" >zachód słońca: 17:28 CET</text>
<text x="550.5" y="133" font-size="12.3" fill="#00008b" stroke="#00008b" text-anchor="middle" >21°43'31"E, 53°59'46"N</text>
<text x="550.5" y="146" font-size="12.3" fill="#00008b" stroke="#00008b" text-anchor="middle" >(x=261,  y=355)</text>
<text x="738" y="133" font-size="12.35" fill="#00008b" stroke="#00008b" text-anchor="middle" >wysokość (min, środek, max)</text>
<text x="738" y="146" font-size="12.3" fill="#00008b" stroke="#00008b" text-anchor="middle" >121 - 141 - 157 m</text>
</g>
<text x="356.5" y="175" font-size="13" fill="#000" stroke="#000" text-anchor="middle" >22</text>
<text x="398.8" y="175" font-size="13" fill="#000" stroke="#000" text-anchor="middle" >04</text>
<text x="441" y="175" font-size="13" fill="#000" stroke="#000" text-anchor="middle" >10</text>
<text x="483.3" y="175" font-size="13" fill="#000" stroke="#000" text-anchor="middle" >16</text>
<text x="525.6" y="175" font-size="13" fill="#000" stroke="#000" text-anchor="middle" >22</text>
<text x="567.9" y="175" font-size="13" fill="#000" stroke="#000" text-anchor="middle" >04</text>
<text x="610.2" y="175" font-size="13" fill="#000" stroke="#000" text-anchor="middle" >10</text>
<text x="652.5" y="175" font-size="13" fill="#000" stroke="#000" text-anchor="middle" >16</text>
<text x="694.7" y="175" font-size="13" fill="#000" stroke="#000" text-anchor="middle" >22</text>
<text x="737" y="175" font-size="13" fill="#000" stroke="#000" text-anchor="middle" >04</text>
<text x="306" y="175" font-size="13" fill="#000" stroke="#000" text-anchor="start" >CET</text>
<text x="769" y="175" font-size="13" fill="#000" stroke="#000" text-anchor="start" >CET</text>
<text x="462" y="162" font-size="13" fill="#000" stroke="#000" text-anchor="middle" >śro, 11.03</text>
<text x="631" y="162" font-size="13" fill="#000" stroke="#000" text-anchor="middle" >czw, 12.03</text>
<text x="337.6" y="201.5" font-size="11.2" fill="#000" stroke="#000" text-anchor="end" >10</text>
<text x="761.6" y="201.5" font-size="11.2" fill="#000" stroke="#000" text-anchor="start" >10</text>
<text x="337.6" y="222.5" font-size="11.2" fill="#000" stroke="#000" text-anchor="end" >5</text>
<text x="764.7" y="222.5" font-size="11.2" fill="#000" stroke="#000" text-anchor="start" >5</text>
<text x="337.6" y="243" font-size="11.2" fill="#000" stroke="#000" text-anchor="end" >0</text>
<text x="764.7" y="243" font-size="11.2" fill="#000" stroke="#000" text-anchor="start" >0</text>
<text x="337.6" y="270.5" font-size="11.2" fill="#000" stroke="#000" text-anchor="end" >5</text>
<text x="337.6" y="285.5" font-size="11.2" fill="#000" stroke="#000" text-anchor="end" >4</text>
<text x="337.6" y="300.5" font-size="11.2" fill="#000" stroke="#000" text-anchor="end" >3</text>
<text x="337.6" y="315.5" font-size="11.2" fill="#000" stroke="#000" text-anchor="end" >2</text>
<text x="337.6" y="330.5" font-size="11.2" fill="#000" stroke="#000" text-anchor="end" >1</text>
<text x="337.6" y="345.5" font-size="11.2" fill="#000" stroke="#000" text-anchor="end" >0</text>
<text x="761.6" y="270.5" font-size="11.2" fill="#e8501a" stroke="#e8501a" text-anchor="start" >100</text>
<text x="764.7" y="285.5" font-size="11.2" fill="#e8501a" stroke="#e8501a" text-anchor="start" >95</text>
<text x="764.7" y="300.5" font-size="11.2" fill="#e8501a" stroke="#e8501a" text-anchor="start" >90</text>
<text x="764.7" y="315.5" font-size="11.2" fill="#e8501a" stroke="#e8501a" text-anchor="start" >85</text>
<text x="764.7" y="330.5" font-size="11.2" fill="#e8501a" stroke="#e8501a" text-anchor="start" >80</text>
<text x="764.7" y="345.5" font-size="11.2" fill="#e8501a" stroke="#e8501a" text-anchor="start" >75</text>
<text x="337.6" y="366.5" font-size="11.2" fill="#000" stroke="#000" text-anchor="end" >1020</text>
<text x="337.6" y="387" font-size="11.2" fill="#000" stroke="#000" text-anchor="end" >1015</text>
<text x="337.6" y="408.5" font-size="11.2" fill="#000" stroke="#000" text-anchor="end" >1010</text>
<text x="337.6" y="429.5" font-size="11.2" fill="#000" stroke="#000" text-anchor="end" >1005</text>
<text x="764.7" y="366.5" font-size="11.2" fill="#000" stroke="#000" text-anchor="start" >765</text>
<text x="764.7" y="387.5" font-size="11.2" fill="#000" stroke="#000" text-anchor="start" >761</text>
<text x="764.7" y="408.5" font-size="11.2" fill="#000" stroke="#000" text-anchor="start" >758</text>
<text x="764.7" y="428.5" font-size="11.2" fill="#000" stroke="#000" text-anchor="start" >754</text>
<text x="337.6" y="443" font-size="11.2" fill="#000" stroke="#000" text-anchor="end" >10</text>
<text x="337.6" y="458.5" font-size="11.2" fill="#000" stroke="#000" text-anchor="end" >8</text>
<text x="337.6" y="473.5" font-size="11.2" fill="#000" stroke="#000" text-anchor="end" >6</text>
<text x="337.6" y="488.5" font-size="11.2" fill="#000" stroke="#000" text-anchor="end" >4</text>
<text x="337.6" y="504" font-size="11.2" fill="#000" stroke="#000" text-anchor="end" >2</text>
<text x="337.6" y="519.5" font-size="11.2" fill="#000" stroke="#000" text-anchor="end" >0</text>
<text x="761.6" y="443" font-size="11.2" fill="#000" stroke="#000" text-anchor="start" >36</text>
<text x="761.6" y="458.5" font-size="11.2" fill="#000" stroke="#000" text-anchor="start" >29</text>
<text x="761.6" y="473.5" font-size="11.2" fill="#000" stroke="#000" text-anchor="start" >22</text>
<text x="761.6" y="488.5" font-size="11.2" fill="#000" stroke="#000" text-anchor="start" >14</text>
<text x="764.7" y="504" font-size="11.2" fill="#000" stroke="#000" text-anchor="start" >7</text>
<text x="764.7" y="518.5" font-size="11.2" fill="#000" stroke="#000" text-anchor="start" >0</text>
<text x="337.6" y="561.5" font-size="11.2" fill="#000" stroke="#000" text-anchor="end" >15.0</text>
<text x="337.6" y="581.5" font-size="11.2" fill="#000" stroke="#000" text-anchor="end" >7.0</text>
<text x="337.6" y="601" font-size="11.2" fill="#000" stroke="#000" text-anchor="end" >2.0</text>
<text x="337.6" y="620.5" font-size="11.2" fill="#000" stroke="#000" text-anchor="end" >0.5</text>
<text x="337.6" y="640" font-size="11.2" fill="#000" stroke="#000" text-anchor="end" >0.0</text>
<text x="761.6" y="561.5" font-size="11.2" fill="#ff8c00" stroke="#ff8c00" text-anchor="start" >100</text>
<text x="761.6" y="581.5" font-size="11.2" fill="#ff8c00" stroke="#ff8c00" text-anchor="start" >20</text>
<text x="761.6" y="601" font-size="11.2" fill="#ff8c00" stroke="#ff8c00" text-anchor="start" >5</text>
<text x="761.6" y="620.5" font-size="11.2" fill="#ff8c00" stroke="#ff8c00" text-anchor="start" >1</text>
<text x="761.6" y="640" font-size="11.2" fill="#ff8c00" stroke="#ff8c00" text-anchor="start" >0</text>
<text x="337.6" y="649.5" font-size="11.2" fill="#000" stroke="#000" text-anchor="end" >8</text>
<text x="761.6" y="649.5" font-size="11.2" fill="#ff8c00" stroke="#ff8c00" text-anchor="start" >1</text>
<text transform="translate(293.3,216.1) rotate(-90)" font-size="12.3" fill="#00008b" text-anchor="middle" textLength="66.8" lengthAdjust="spacingAndGlyphs">temperatura</text>
<text transform="translate(306.3,216.8) rotate(-90)" font-size="12.3" fill="#00008b" text-anchor="middle" textLength="21.4" lengthAdjust="spacingAndGlyphs">(°C)</text>
<text transform="translate(293.3,304.5) rotate(-90)" font-size="12.3" fill="#00008b" text-anchor="middle" textLength="25.6" lengthAdjust="spacingAndGlyphs">opad</text>
<text transform="translate(306.3,305.5) rotate(-90)" font-size="12.3" fill="#00008b" text-anchor="middle" textLength="85.6" lengthAdjust="spacingAndGlyphs">(mm/h, kg/m²/h)</text>
<text transform="translate(293.3,392.7) rotate(-90)" font-size="12.3" fill="#00008b" text-anchor="middle" textLength="49.4" lengthAdjust="spacingAndGlyphs">ciśnienie</text>
<text transform="translate(306.3,392.4) rotate(-90)" font-size="12.3" fill="#00008b" text-anchor="middle" textLength="25.7" lengthAdjust="spacingAndGlyphs">(hPa)</text>
<text transform="translate(293.3,481) rotate(-90)" font-size="12.3" fill="#00008b" text-anchor="middle" textLength="24.3" lengthAdjust="spacingAndGlyphs">wiatr</text>
<text transform="translate(306.3,481.2) rotate(-90)" font-size="12.3" fill="#00008b" text-anchor="middle" textLength="28.9" lengthAdjust="spacingAndGlyphs">(m/s)</text>
<text transform="translate(293.3,600.4) rotate(-90)" font-size="12.3" fill="#00008b" text-anchor="middle" textLength="92.3" lengthAdjust="spacingAndGlyphs">pion. rozciągł. chm.</text>
<text transform="translate(306.3,594) rotate(-90)" font-size="12.3" fill="#00008b" text-anchor="middle" textLength="23.6" lengthAdjust="spacingAndGlyphs">(km)</text>
<text transform="translate(293.3,691) rotate(-90)" font-size="12.3" fill="#00008b" text-anchor="middle" textLength="74" lengthAdjust="spacingAndGlyphs">zachmurzenie</text>
<text transform="translate(803.2,216.6) rotate(-90)" font-size="12.3" fill="#00008b" text-anchor="middle" textLength="21.4" lengthAdjust="spacingAndGlyphs">(°C)</text>
<text transform="translate(815,216.1) rotate(-90)" font-size="12.3" fill="#00008b" text-anchor="middle" textLength="66.8" lengthAdjust="spacingAndGlyphs">temperatura</text>
<text transform="translate(803.2,303.5) rotate(-90)" font-size="12.3" fill="#00008b" text-anchor="middle" textLength="22" lengthAdjust="spacingAndGlyphs">(%)</text>
<text transform="translate(815,305.6) rotate(-90)" font-size="12.3" fill="#00008b" text-anchor="middle" textLength="87.3" lengthAdjust="spacingAndGlyphs">wilgotność wzgl.</text>
<text transform="translate(803.2,393.2) rotate(-90)" font-size="12.3" fill="#00008b" text-anchor="middle" textLength="47.1" lengthAdjust="spacingAndGlyphs">(mm Hg)</text>
<text transform="translate(815,392.7) rotate(-90)" font-size="12.3" fill="#00008b" text-anchor="middle" textLength="49.4" lengthAdjust="spacingAndGlyphs">ciśnienie</text>
<text transform="translate(803.2,481.4) rotate(-90)" font-size="12.3" fill="#00008b" text-anchor="middle" textLength="34.1" lengthAdjust="spacingAndGlyphs">(km/h)</text>
<text transform="translate(815,482) rotate(-90)" font-size="12.3" fill="#00008b" text-anchor="middle" textLength="24.3" lengthAdjust="spacingAndGlyphs">wiatr</text>
<text transform="translate(803.2,594.1) rotate(-90)" font-size="12.3" fill="#00008b" text-anchor="middle" textLength="23.6" lengthAdjust="spacingAndGlyphs">(km)</text>
<text transform="translate(815,595.5) rotate(-90)" font-size="12.3" fill="#00008b" text-anchor="middle" textLength="65.1" lengthAdjust="spacingAndGlyphs">widzialność</text>
<g fill="#00008b" font-size="12" text-anchor="middle"><text x="288.8" y="538.7">W</text><text x="306.3" y="538.7" font-size="11.5">E</text><text x="298.6" y="531">N</text><text x="298.3" y="547.4">S</text></g>
<path d="M302.6 523.5V536M300.1 530.6H310.1" stroke="#00008b" stroke-width="0.8" fill="none"/>
<g fill="#00008b" font-size="12" text-anchor="middle"><text x="797.2" y="538.7">W</text><text x="814.7" y="538.7" font-size="11.5">E</text><text x="807" y="531">N</text><text x="806.7" y="547.4">S</text></g>
<path d="M811 523.5V536M808.5 530.6H818.5" stroke="#00008b" stroke-width="0.8" fill="none"/>
<rect x="170" y="30" width="61.5" height="598" fill="#eef5fe"/>
<clipPath id="lT"><rect x="135.5" y="57.5" width="110.0" height="77.0"/></clipPath>
<g clip-path="url(#lT)">
<rect x="135.5" y="57.5" width="110.0" height="77.0" fill="#fff"/>
<rect x="170" y="57.5" width="61.5" height="77.0" fill="#eef5fe"/>
<rect x="135.5" y="111.5" width="110.0" height="23.0" fill="#87cefa"/>
<rect x="170" y="111.5" width="61.5" height="23.0" fill="#80bdf0"/>
<polygon fill="#c2e6ff"  points="135.6,100.2 142.4,100.8 149.3,102.7 156.1,105.0 163.3,107.0 170.3,108.6 177.6,110.5 184.4,111.9 191.2,112.9 198.0,114.4 205.3,115.2 212.7,115.8 219.5,115.0 226.5,115.5 233.2,119.1 240.0,113.8 245.5,112.5 245.5,119.8 240.0,123.7 233.2,131.5 219.5,130.5 205.3,127.6 191.2,123.7 177.6,119.8 163.3,115.9 149.3,114.0 135.6,112.0"/>
<polygon fill="#fdece4"  points="135.6,87.6 149.3,91.5 163.3,97.3 177.6,102.2 191.2,106.0 205.3,108.0 219.5,109.0 233.2,110.0 245.5,107.0 245.5,116.5 240.0,117.8 233.2,123.1 226.5,119.5 219.5,119.0 212.7,119.8 205.3,119.2 198.0,118.4 191.2,116.9 184.4,115.9 177.6,114.5 170.3,112.6 163.3,111.0 156.1,109.0 149.3,106.7 142.4,104.8 135.6,104.2"/>
</g>
<g stroke="#000" stroke-width="1" stroke-dasharray="2 2" shape-rendering="crispEdges" fill="none"><path d="M142.5 57.5V134.5"/><path d="M163.5 57.5V134.5"/><path d="M184.5 57.5V134.5"/><path d="M205.5 57.5V134.5"/><path d="M226.5 57.5V134.5"/><path d="M135.5 59.5H245.5"/><path d="M135.5 77.5H245.5"/><path d="M135.5 94.5H245.5"/><path d="M135.5 111.5H245.5"/><path d="M135.5 129.5H245.5"/></g>
<g clip-path="url(#lT)">
<g fill="#7a5cd6"><rect x="141.2" y="112.7" width="2.4" height="2.4"/><rect x="148.1" y="112.8" width="2.4" height="2.4"/><rect x="154.9" y="113.8" width="2.4" height="2.4"/><rect x="162.1" y="114.3" width="2.4" height="2.4"/><rect x="169.1" y="114.8" width="2.4" height="2.4"/><rect x="176.4" y="115.8" width="2.4" height="2.4"/><rect x="183.2" y="116.8" width="2.4" height="2.4"/><rect x="190.0" y="117.6" width="2.4" height="2.4"/><rect x="196.8" y="118.3" width="2.4" height="2.4"/><rect x="204.1" y="118.8" width="2.4" height="2.4"/><rect x="211.5" y="119.3" width="2.4" height="2.4"/><rect x="218.3" y="119.5" width="2.4" height="2.4"/><rect x="225.3" y="119.8" width="2.4" height="2.4"/><rect x="232.0" y="121.8" width="2.4" height="2.4"/><rect x="238.8" y="117.8" width="2.4" height="2.4"/></g>
<polyline fill="none" stroke="#0000ff" stroke-width="2.1" stroke-linejoin="round"  points="135.6,103.2 142.4,103.8 149.3,105.7 156.1,108.0 163.3,110.0 170.3,111.6 177.6,113.5 184.4,114.9 191.2,115.9 198.0,117.4 205.3,118.2 212.7,118.8 219.5,118.0 226.5,118.5 233.2,122.1 240.0,116.8 245.5,115.5"/>
<polyline fill="none" stroke="#ff0000" stroke-width="2.1" stroke-linejoin="round"  points="135.6,99.3 142.4,99.3 149.3,101.2 156.1,104.1 163.3,107.7 170.3,110.4 177.6,112.3 184.4,113.5 191.2,113.9 198.0,114.3 205.3,114.3 212.7,114.9 219.5,115.3 226.5,115.9 233.2,118.8 240.0,115.5 245.5,112.0"/>
<g stroke="#a52a2a" stroke-width="1.1"><path d="M142.5 70V100.2"/><path d="M149.5 77.8V94.4"/><path d="M156.5 87V102.2"/><path d="M163.5 96.3V112"/><path d="M170.5 101.2V115.9"/><path d="M177.5 103.2V118.8"/><path d="M184.5 104.1V121.7"/><path d="M191.5 107V123.7"/><path d="M198.5 108V125.6"/><path d="M205.5 108V127.6"/><path d="M212.5 109V129.5"/><path d="M219.5 110V130.5"/><path d="M226.5 112V132.4"/><path d="M233.5 112V132.4"/><path d="M240.5 106V120.7"/></g>
</g>
<rect x="135.5" y="57.5" width="110.0" height="77.0" fill="none" stroke="#000" stroke-width="1" shape-rendering="crispEdges"/>
<clipPath id="lP"><rect x="135.5" y="143.5" width="110.0" height="77.0"/></clipPath>
<g clip-path="url(#lP)">
<rect x="135.5" y="187" width="8.5" height="33.5" fill="#00a000"/>
<rect x="143.5" y="181" width="6.5" height="39.5" fill="#00a000"/>
<rect x="149.5" y="179" width="8.0" height="41.5" fill="#00a000"/>
<rect x="157" y="182.5" width="8.0" height="19.5" fill="#1428c8"/>
<rect x="157" y="202" width="8.0" height="18.5" fill="#00a000"/>
<rect x="164.5" y="205" width="6.0" height="3" fill="#1428c8"/>
<rect x="164.5" y="208" width="6.0" height="12.5" fill="#00a000"/>
<rect x="170" y="218" width="7.5" height="2.5" fill="#00a000"/>
</g>
<g stroke="#000" stroke-width="1" stroke-dasharray="2 2" shape-rendering="crispEdges" fill="none"><path d="M142.5 143.5V220.5"/><path d="M163.5 143.5V220.5"/><path d="M184.5 143.5V220.5"/><path d="M205.5 143.5V220.5"/><path d="M226.5 143.5V220.5"/><path d="M135.5 150.5H245.5"/><path d="M135.5 168.5H245.5"/><path d="M135.5 185.5H245.5"/><path d="M135.5 203.5H245.5"/></g>
<g stroke="#00a000" stroke-width="1" shape-rendering="crispEdges"><path d="M139.5 165V187"/><path d="M146.5 148.5V181"/><path d="M153.5 148.5V179"/></g>
<path d="M160.5 171V182.5" stroke="#1428c8" stroke-width="1" shape-rendering="crispEdges"/>
<rect x="145" y="146.3" width="2.8" height="2.8" fill="#f00"/><rect x="152.2" y="146.3" width="2.8" height="2.8" fill="#f00"/>
<path d="M137.5 219.5H163" stroke="#f00" stroke-width="1" stroke-dasharray="3 4" shape-rendering="crispEdges"/>
<g clip-path="url(#lP)">
<polyline fill="none" stroke="#e8501a" stroke-width="2" stroke-linejoin="round"  points="135.6,172.0 139.5,170.0 143.4,167.5 146.3,163.0 149.3,159.3 152.5,157.0 156.1,155.4 160.0,154.0 164.5,153.0 184.4,153.0 187.5,150.5 191.2,149.1 198.0,149.1 201.5,152.0 205.3,155.0 212.7,155.4 216.0,153.5 219.5,151.5 222.5,150.0 225.4,149.1 229.0,149.8 233.2,151.5 236.5,154.5 240.0,158.3 245.5,164.5"/>
</g>
<circle cx="139.3" cy="173.3" r="2.3" fill="#ffe000" stroke="#222" stroke-width="0.9"/>
<circle cx="146.3" cy="173.3" r="2.3" fill="#ffa000" stroke="#222" stroke-width="0.9"/>
<circle cx="153.6" cy="173.3" r="2.3" fill="#f00000" stroke="#222" stroke-width="0.9"/>
<rect x="135.5" y="143.5" width="110.0" height="77.0" fill="none" stroke="#000" stroke-width="1" shape-rendering="crispEdges"/>
<clipPath id="lR"><rect x="135.5" y="229.5" width="110.0" height="77.0"/></clipPath>
<g clip-path="url(#lR)">
<polygon fill="#ffff00"  points="135.5,306.5 135.5,261.0 143.0,260.0 150.0,254.0 157.0,249.5 163.5,249.0 171.0,245.3 178.0,248.0 185.0,250.5 192.0,253.5 225.0,253.5 232.0,257.0 239.0,261.0 245.5,265.0 245.5,306.5"/>
<clipPath id="lRp"><polygon points="135.5,306.5 135.5,261 143,260 150,254 157,249.5 163.5,249 171,245.3 178,248 185,250.5 192,253.5 225,253.5 232,257 239,261 245.5,265 245.5,306.5"/></clipPath>
<rect x="163.5" y="229.5" width="6.5" height="77.0" fill="#ffd800" clip-path="url(#lRp)"/>
</g>
<g stroke="#000" stroke-width="1" stroke-dasharray="2 2" shape-rendering="crispEdges" fill="none"><path d="M142.5 229.5V306.5"/><path d="M163.5 229.5V306.5"/><path d="M184.5 229.5V306.5"/><path d="M205.5 229.5V306.5"/><path d="M226.5 229.5V306.5"/><path d="M135.5 231.5H245.5"/><path d="M135.5 254.5H245.5"/><path d="M135.5 278.5H245.5"/><path d="M135.5 301.5H245.5"/></g>
<g clip-path="url(#lR)">
<polyline fill="none" stroke="#000" stroke-width="2.4" stroke-linejoin="round"  points="135.5,261.0 143.0,260.0 150.0,254.0 157.0,249.5 163.5,249.0 171.0,245.3 178.0,248.0 185.0,250.5 192.0,253.5 225.0,253.5 232.0,257.0 239.0,261.0 245.5,265.0"/>
</g>
<rect x="135.5" y="229.5" width="110.0" height="77.0" fill="none" stroke="#000" stroke-width="1" shape-rendering="crispEdges"/>
<clipPath id="lW"><rect x="135.5" y="315.5" width="110.0" height="77.0"/></clipPath>
<clipPath id="lWp"><polygon points="135.5,392.5 135.6,364.5 139.5,367 143.4,368.4 149.3,370.4 156.1,371.7 163.3,372.9 170.3,374.3 177.6,375.2 184.4,375.2 191.2,373.7 198,372.9 205.3,372.5 212.7,372.7 219.5,372.7 226.5,372.5 233.2,371 240,369.8 245.5,369.4 245.5,392.5"/></clipPath>
<g clip-path="url(#lWp)">
<rect x="135.5" y="315.5" width="12.8" height="77.0" fill="#14c814"/>
<rect x="148" y="315.5" width="21.3" height="77.0" fill="#007814"/>
<rect x="169" y="315.5" width="28.3" height="77.0" fill="#004488"/>
<rect x="197" y="315.5" width="14.3" height="77.0" fill="#007814"/>
<rect x="211" y="315.5" width="14.3" height="77.0" fill="#004488"/>
<rect x="225" y="315.5" width="14.3" height="77.0" fill="#007814"/>
<rect x="239" y="315.5" width="7.3" height="77.0" fill="#14c814"/>
</g>
<g stroke="#000" stroke-width="1" stroke-dasharray="2 2" shape-rendering="crispEdges" fill="none"><path d="M142.5 315.5V392.5"/><path d="M163.5 315.5V392.5"/><path d="M184.5 315.5V392.5"/><path d="M205.5 315.5V392.5"/><path d="M226.5 315.5V392.5"/><path d="M135.5 334.5H245.5"/><path d="M135.5 354.5H245.5"/><path d="M135.5 373.5H245.5"/></g>
<g clip-path="url(#lW)">
<polyline fill="none" stroke="#00008b" stroke-width="2.4" stroke-linejoin="round"  points="135.6,364.5 139.5,367.0 143.4,368.4 149.3,370.4 156.1,371.7 163.3,372.9 170.3,374.3 177.6,375.2 184.4,375.2 191.2,373.7 198.0,372.9 205.3,372.5 212.7,372.7 219.5,372.7 226.5,372.5 233.2,371.0 240.0,369.8 245.5,369.4"/>
<g stroke="#f00" stroke-width="1" shape-rendering="crispEdges"><path d="M143.4 340.5H149.3"/><path d="M148 347.5H155"/><path d="M155 348.5H162"/><path d="M162 351.5H169.8"/><path d="M169.8 355.5H176.6"/><path d="M176.6 358.5H184.4"/><path d="M184.4 354.5H190"/><path d="M190 351.5H198"/><path d="M198 350.5H211.7"/><path d="M211.7 351.5H225.4"/><path d="M225.4 347.5H232.8"/><path d="M232.8 343.5H239"/><path d="M239 342.5H245.5"/></g></g>
<rect x="137.3" y="316.2" width="2.6" height="2.6" fill="#f00"/>
<rect x="135.5" y="315.5" width="110.0" height="77.0" fill="none" stroke="#000" stroke-width="1" shape-rendering="crispEdges"/>
<rect x="135.5" y="398.5" width="110.0" height="32.0" fill="none"/>
<g stroke="#000" stroke-width="1" stroke-dasharray="2 2" shape-rendering="crispEdges" fill="none"><path d="M142.5 398.5V430.5"/><path d="M163.5 398.5V430.5"/><path d="M184.5 398.5V430.5"/><path d="M205.5 398.5V430.5"/><path d="M226.5 398.5V430.5"/></g>
<clipPath id="lD"><rect x="135.5" y="398" width="130" height="33"/></clipPath>
<g stroke="#0000b4" stroke-width="1.1" fill="#0000b4" clip-path="url(#lD)"><g transform="translate(136.3,414.6) rotate(158)"><path d="M0 8.3V-4" fill="none"/><path d="M0 -9L-3.2 -2.6H3.2Z" stroke="none"/></g><g transform="translate(143.2,414.6) rotate(158)"><path d="M0 8.3V-4" fill="none"/><path d="M0 -9L-3.2 -2.6H3.2Z" stroke="none"/></g><g transform="translate(150.1,414.6) rotate(158)"><path d="M0 8.3V-4" fill="none"/><path d="M0 -9L-3.2 -2.6H3.2Z" stroke="none"/></g><g transform="translate(156.9,414.6) rotate(158)"><path d="M0 8.3V-4" fill="none"/><path d="M0 -9L-3.2 -2.6H3.2Z" stroke="none"/></g><g transform="translate(163.8,414.6) rotate(158)"><path d="M0 8.3V-4" fill="none"/><path d="M0 -9L-3.2 -2.6H3.2Z" stroke="none"/></g><g transform="translate(170.7,414.6) rotate(158)"><path d="M0 8.3V-4" fill="none"/><path d="M0 -9L-3.2 -2.6H3.2Z" stroke="none"/></g><g transform="translate(177.6,414.6) rotate(158)"><path d="M0 8.3V-4" fill="none"/><path d="M0 -9L-3.2 -2.6H3.2Z" stroke="none"/></g><g transform="translate(184.4,414.6) rotate(158)"><path d="M0 8.3V-4" fill="none"/><path d="M0 -9L-3.2 -2.6H3.2Z" stroke="none"/></g><g transform="translate(191.3,414.6) rotate(158)"><path d="M0 8.3V-4" fill="none"/><path d="M0 -9L-3.2 -2.6H3.2Z" stroke="none"/></g><g transform="translate(198.2,414.6) rotate(158)"><path d="M0 8.3V-4" fill="none"/><path d="M0 -9L-3.2 -2.6H3.2Z" stroke="none"/></g><g transform="translate(205.1,414.6) rotate(158)"><path d="M0 8.3V-4" fill="none"/><path d="M0 -9L-3.2 -2.6H3.2Z" stroke="none"/></g><g transform="translate(211.9,414.6) rotate(158)"><path d="M0 8.3V-4" fill="none"/><path d="M0 -9L-3.2 -2.6H3.2Z" stroke="none"/></g><g transform="translate(218.8,414.6) rotate(158)"><path d="M0 8.3V-4" fill="none"/><path d="M0 -9L-3.2 -2.6H3.2Z" stroke="none"/></g><g transform="translate(225.7,414.6) rotate(158)"><path d="M0 8.3V-4" fill="none"/><path d="M0 -9L-3.2 -2.6H3.2Z" stroke="none"/></g><g transform="translate(232.6,414.6) rotate(158)"><path d="M0 8.3V-4" fill="none"/><path d="M0 -9L-3.2 -2.6H3.2Z" stroke="none"/></g><g transform="translate(239.4,414.6) rotate(158)"><path d="M0 8.3V-4" fill="none"/><path d="M0 -9L-3.2 -2.6H3.2Z" stroke="none"/></g><g transform="translate(246.3,414.6) rotate(158)"><path d="M0 8.3V-4" fill="none"/><path d="M0 -9L-3.2 -2.6H3.2Z" stroke="none"/></g></g>
<rect x="135.5" y="398.5" width="110.0" height="32.0" fill="none" stroke="#000" stroke-width="1" shape-rendering="crispEdges"/>
<clipPath id="lC"><rect x="135.5" y="436.5" width="110.0" height="78.0"/></clipPath>
<rect x="135.5" y="436.5" width="110.0" height="78.0" fill="#87cefa"/>
<rect x="170" y="436.5" width="61.5" height="78.0" fill="#80bdf0"/>
<g stroke="#000" stroke-width="1" stroke-dasharray="2 2" shape-rendering="crispEdges" fill="none"><path d="M142.5 436.5V514.5"/><path d="M163.5 436.5V514.5"/><path d="M184.5 436.5V514.5"/><path d="M205.5 436.5V514.5"/><path d="M226.5 436.5V514.5"/><path d="M135.5 456.5H245.5"/><path d="M135.5 475.5H245.5"/><path d="M135.5 495.5H245.5"/></g>
<g clip-path="url(#lC)">
<circle cx="170.3" cy="492.4" r="2.5" fill="#fff"/>
<circle cx="177.4" cy="492.4" r="2.5" fill="#fff"/>
<circle cx="191.4" cy="492.8" r="2.5" fill="#fff"/>
<circle cx="198.4" cy="492.8" r="2.5" fill="#fff"/>
<circle cx="204.3" cy="492.8" r="2.5" fill="#fff"/>
<circle cx="211.3" cy="492.4" r="2.5" fill="#fff"/>
<circle cx="150.2" cy="500.2" r="2.5" fill="#fff"/>
<circle cx="164.5" cy="499.3" r="2.5" fill="#fff"/>
<circle cx="191.4" cy="500.2" r="2.5" fill="#fff"/>
<circle cx="143.4" cy="505" r="2.5" fill="#fff"/>
<circle cx="137" cy="509" r="2.5" fill="#fff"/>
<circle cx="184.4" cy="509.4" r="2.5" fill="#fff"/>
<circle cx="218.3" cy="509.4" r="2.5" fill="#fff"/>
<circle cx="225.4" cy="509.4" r="2.5" fill="#fff"/>
<circle cx="232.4" cy="509.4" r="2.5" fill="#fff"/>
<circle cx="239.4" cy="509.4" r="2.5" fill="#fff"/>
<circle cx="170.3" cy="489" r="2.5" fill="#ccc"/>
<circle cx="198.4" cy="489.5" r="2.5" fill="#ccc"/>
<circle cx="211.3" cy="489" r="2.5" fill="#ccc"/>
<circle cx="218.3" cy="500" r="2.5" fill="#ccc"/>
<circle cx="225.4" cy="500" r="2.5" fill="#ccc"/>
<circle cx="239.4" cy="500" r="2.5" fill="#ccc"/>
<circle cx="137" cy="505" r="2.5" fill="#ccc"/>
<circle cx="245" cy="500" r="2.5" fill="#ccc"/>
<circle cx="198.4" cy="485.2" r="2.5" fill="#999"/>
<circle cx="211.3" cy="485" r="2.5" fill="#999"/>
<circle cx="177.4" cy="489.5" r="2.5" fill="#999"/>
<circle cx="239.4" cy="494.4" r="2.5" fill="#999"/>
<circle cx="232.4" cy="500" r="2.5" fill="#999"/>
<circle cx="184.4" cy="504" r="2.5" fill="#999"/>
<circle cx="245" cy="481.7" r="2.5" fill="#999"/>
<circle cx="143.4" cy="481.7" r="2.5" fill="#555"/>
<circle cx="150.2" cy="492.8" r="2.5" fill="#555"/>
<circle cx="157.5" cy="492.8" r="2.5" fill="#555"/>
<circle cx="164.5" cy="492.8" r="2.5" fill="#555"/>
<circle cx="191.4" cy="489.5" r="2.5" fill="#555"/>
<circle cx="218.3" cy="489.5" r="2.5" fill="#555"/>
<circle cx="225.4" cy="492.8" r="2.5" fill="#555"/>
<circle cx="232.4" cy="493.4" r="2.5" fill="#555"/>
<circle cx="211.3" cy="481.7" r="2.5" fill="#555"/>
<circle cx="184.4" cy="500.2" r="2.5" fill="#555"/>
<circle cx="143.4" cy="499.9" r="2.5" fill="#555"/>
<circle cx="191.4" cy="457.3" r="2.5" fill="#000"/>
<circle cx="198.4" cy="464.7" r="2.5" fill="#000"/>
<circle cx="204.3" cy="468" r="2.5" fill="#000"/>
<circle cx="211.3" cy="470.6" r="2.5" fill="#000"/>
<circle cx="218.3" cy="481.7" r="2.5" fill="#000"/>
<circle cx="225.4" cy="485.6" r="2.5" fill="#000"/>
<circle cx="232.4" cy="489" r="2.5" fill="#000"/>
<circle cx="239.4" cy="481.7" r="2.5" fill="#000"/>
<circle cx="245" cy="476.4" r="2.5" fill="#000"/>
<circle cx="184.4" cy="489" r="2.5" fill="#000"/>
<circle cx="177.6" cy="449.5" r="2.5" fill="#b22222"/>
<circle cx="184.4" cy="449.5" r="2.5" fill="#b22222"/>
<circle cx="191.4" cy="449.5" r="2.5" fill="#b22222"/>
<circle cx="204.3" cy="449.5" r="2.5" fill="#b22222"/>
<circle cx="211.3" cy="449.5" r="2.5" fill="#b22222"/>
<circle cx="218.3" cy="449.5" r="2.5" fill="#b22222"/>
<circle cx="225.4" cy="449.5" r="2.5" fill="#b22222"/>
<circle cx="232.4" cy="449.5" r="2.5" fill="#b22222"/>
<circle cx="239.4" cy="449.5" r="2.5" fill="#b22222"/>
<circle cx="245.5" cy="449.5" r="2.5" fill="#b22222"/>
<circle cx="170.3" cy="451" r="2.5" fill="#b22222"/>
<circle cx="198.4" cy="451" r="2.5" fill="#b22222"/>
<circle cx="150.2" cy="458.9" r="2.5" fill="#b22222"/>
<circle cx="157.3" cy="458.9" r="2.5" fill="#b22222"/>
<circle cx="164.5" cy="460.2" r="2.5" fill="#b22222"/>
<circle cx="137" cy="475.9" r="2.5" fill="#b22222"/>
<circle cx="143.8" cy="475.9" r="2.5" fill="#b22222"/>
<polyline fill="none" stroke="#ff9900" stroke-width="2" stroke-linejoin="round"  points="135.5,471.0 143.0,471.0 150.0,467.0 157.0,465.5 164.0,464.5 178.0,464.0 184.0,466.0 191.0,470.0 198.0,472.0 205.0,472.0 211.0,473.0 218.0,475.0 225.0,475.0 232.0,474.0 239.0,472.0 245.5,471.0"/>
</g>
<rect x="135.5" y="436.5" width="110.0" height="78.0" fill="none" stroke="#000" stroke-width="1" shape-rendering="crispEdges"/>
<clipPath id="lK"><rect x="135.5" y="523.5" width="110.0" height="78.0"/></clipPath>
<rect x="135.5" y="523.5" width="110.0" height="78.0" fill="#87cefa"/>
<rect x="170" y="523.5" width="61.5" height="78.0" fill="#80bdf0"/>
<g clip-path="url(#lK)">
<polygon fill="#fff"  points="164.0,601.0 165.5,588.0 168.0,580.0 171.0,574.0 175.0,568.0 178.0,566.0 184.0,563.5 187.0,556.0 191.0,549.0 195.0,545.5 198.0,545.0 204.0,543.5 207.0,536.0 211.0,528.0 214.0,525.0 218.0,524.0 232.0,524.0 236.0,530.0 239.0,535.5 245.5,544.0 245.5,601.0"/>
<polygon fill="#999"  points="193.5,601.0 193.5,574.0 193.5,548.0 197.0,544.0 197.3,531.0 200.0,533.0 204.0,532.5 207.6,532.0 211.0,528.5 214.0,526.5 232.0,526.5 234.0,523.0 246.0,523.0 246.0,601.0"/>
<polygon fill="#555"  points="135.0,601.0 135.0,576.5 143.5,563.4 150.0,576.5 157.0,583.0 164.0,586.0 165.0,588.0 171.0,590.5 178.0,592.6 184.5,569.0 191.4,570.0 193.5,574.0 204.6,595.0 211.4,576.5 218.3,543.0 225.4,535.0 228.0,536.0 232.0,540.0 239.0,551.7 246.0,565.0 246.0,601.0"/>
<polygon fill="#2e2e2e"  points="139.0,601.0 150.0,591.0 157.0,594.5 164.0,601.0"/>
<polyline fill="none" stroke="#ddd" stroke-width="0.8" stroke-linejoin="round"  points="135.0,589.0 143.0,596.0 150.0,599.5 157.0,601.0"/>
<polyline fill="none" stroke="#fff" stroke-width="1" stroke-linejoin="round"  points="164.0,601.0 165.5,588.0 168.0,580.0 171.0,574.0 175.0,568.0 178.0,566.0 184.0,563.5 187.0,556.0 191.0,549.0 195.0,545.5 198.0,545.0 204.0,543.5 207.0,536.0 211.0,528.0 214.0,525.0 218.0,524.0 232.0,524.0 236.0,530.0 239.0,535.5 245.5,544.0"/>
<polyline fill="none" stroke="#bbb" stroke-width="0.8" stroke-linejoin="round"  points="184.5,601.0 191.4,578.0 193.5,574.0"/>
<polyline fill="none" stroke="#fff" stroke-width="1" stroke-linejoin="round" stroke-dasharray="2 2" points="164.0,601.0 165.5,588.0"/>
</g>
<g stroke="#000" stroke-width="1" stroke-dasharray="2 2" shape-rendering="crispEdges" fill="none"><path d="M142.5 523.5V601.5"/><path d="M163.5 523.5V601.5"/><path d="M184.5 523.5V601.5"/><path d="M205.5 523.5V601.5"/><path d="M226.5 523.5V601.5"/><path d="M135.5 543.5H245.5"/><path d="M135.5 562.5H245.5"/><path d="M135.5 582.5H245.5"/></g>
<rect x="217" y="590" width="3" height="11" fill="#ffb400"/>
<rect x="224" y="590" width="3" height="11" fill="#ffb400"/>
<rect x="231" y="590" width="3" height="11" fill="#ffb400"/>
<rect x="238" y="590" width="3" height="11" fill="#ffb400"/>
<rect x="135.5" y="523.5" width="110.0" height="78.0" fill="none" stroke="#000" stroke-width="1" shape-rendering="crispEdges"/>
<polyline fill="none" stroke="#000" stroke-width="1" points="68.3,16.5 133.2,16.5 156,46"/>
<polyline fill="none" stroke="#a52a2a" stroke-width="1" points="102.4,44.5 119.5,44.5 149.5,84"/>
<polyline fill="none" stroke="#f00" stroke-width="1" points="92.2,76.5 114.4,76.5"/>
<polyline fill="none" stroke="#f00" stroke-width="1" points="130.6,76.5 133,77 157,102.2"/>
<polyline fill="none" stroke="#00f" stroke-width="1" points="70,99.5 131,99.5 134,100.5 137,102.5"/>
<polyline fill="none" stroke="#6a5acd" stroke-width="1" points="95.3,120.5 130,120.5 134,119 140,113"/>
<polyline fill="none" stroke="#f00" stroke-width="1" points="103.3,137.5 140.5,137.5 146.3,146.5"/>
<polyline fill="none" stroke="#e8501a" stroke-width="1" points="105.9,151 111.8,151"/>
<polyline fill="none" stroke="#e8501a" stroke-width="1" points="129.8,151 132,151.5 147.3,159.3"/>
<polyline fill="none" stroke="#000" stroke-width="1" points="94.2,166.5 112.7,166.5"/>
<polyline fill="none" stroke="#000" stroke-width="1" points="129,166.5 132,167 137.6,172"/>
<polyline fill="none" stroke="#00a000" stroke-width="1" points="71.4,179.5 139.5,179.5"/>
<polyline fill="none" stroke="#00a000" stroke-width="1" points="80.2,190.5 135.6,190.5"/>
<polyline fill="none" stroke="#1428c8" stroke-width="1" points="70,202.5 111.8,202.5"/>
<polyline fill="none" stroke="#1428c8" stroke-width="1" points="129.8,202.5 132,202 160.6,171.4"/>
<polyline fill="none" stroke="#1428c8" stroke-width="1" points="81.6,213.5 131.5,213.5 157,188.5"/>
<polyline fill="none" stroke="#f00" stroke-width="1" points="97.3,225.5 143.4,225.5 147.3,220"/>
<polyline fill="none" stroke="#000" stroke-width="1" points="51.2,264.5 130,264.5 133,263.5 135.5,261.5"/>
<polyline fill="none" stroke="#f00" stroke-width="1" points="111.8,334.5 117.8,334.5"/>
<polyline fill="none" stroke="#f00" stroke-width="1" points="130,335 132,332 138.5,318"/>
<polyline fill="none" stroke="#f00" stroke-width="1" points="107.2,348.5 130,348.5 138,346 148.3,340.5"/>
<polyline fill="none" stroke="#00008b" stroke-width="1" points="92.2,367.5 140,367.5"/>
<polyline fill="none" stroke="#00008b" stroke-width="1" points="86.2,410.5 140,410.5"/>
<polyline fill="none" stroke="#b22222" stroke-width="1" points="100.4,430.5 132.3,430.5 184,449"/>
<polyline fill="none" stroke="#000" stroke-width="1" points="57.2,468.5 132,468.5 191,457.3"/>
<polyline fill="none" stroke="#555" stroke-width="1" points="57.2,480.5 143,480.5"/>
<polyline fill="none" stroke="#999" stroke-width="1" points="57.2,490.5 131.5,490.5 141,498"/>
<polyline fill="none" stroke="#ccc" stroke-width="1" points="57.2,500.5 131.5,500.5 137,505"/>
<polyline fill="none" stroke="#87cefa" stroke-width="3" points="57.2,510.8 140,510.8"/>
<polyline fill="none" stroke="#fff" stroke-width="1" points="57.2,510.8 140,510.8"/>
<polyline fill="none" stroke="#ff9900" stroke-width="1" points="67.1,527.5 129.8,527.5 170.5,465"/>
<polyline fill="none" stroke="#87cefa" stroke-width="3" points="54.3,557.3 185,557.3"/>
<polyline fill="none" stroke="#fff" stroke-width="1" points="54.3,557.3 185,557.3"/>
<polyline fill="none" stroke="#999" stroke-width="1" points="49.2,571.5 193,571.5"/>
<polyline fill="none" stroke="#444" stroke-width="1" points="40.1,582.5 150,582.5"/>
<polyline fill="none" stroke="#222" stroke-width="1" points="74.3,594.5 150,594.5"/>
<polyline fill="none" stroke="#ffb400" stroke-width="1" points="30,605.8 203,605.8 217,600.5"/>
<polyline fill="none" stroke="#000" stroke-width="1" points="140,623.5 148.5,623.5 156.4,610.5"/>
<text x="5.5" y="18.4" font-size="10.7" fill="#000" stroke="#000" text-anchor="start" textLength="59.9" lengthAdjust="spacingAndGlyphs" >Czas lokalny</text>
<text x="5.5" y="30.2" font-size="10.7" fill="#000" stroke="#000" text-anchor="start" textLength="55.1" lengthAdjust="spacingAndGlyphs" >(CET/CEST)</text>
<rect x="5" y="0" width="1.3" height="1" fill="#000"/>
<text x="5.5" y="46.6" font-size="10.7" fill="#a52a2a" stroke="#a52a2a" text-anchor="start" textLength="94.0" lengthAdjust="spacingAndGlyphs" >Temperatura gruntu</text>
<text x="26.8" y="56.6" font-size="10.7" fill="#a52a2a" stroke="#a52a2a" text-anchor="start" textLength="39.9" lengthAdjust="spacingAndGlyphs" >max/min</text>
<text x="5.5" y="68.2" font-size="10.7" fill="#000" stroke="#000" text-anchor="start" textLength="62.4" lengthAdjust="spacingAndGlyphs" >Temperatura:</text>
<text x="12.3" y="80.2" font-size="10.7" fill="#f00" stroke="#f00" text-anchor="start" textLength="77.8" lengthAdjust="spacingAndGlyphs" >punkt środkowy</text>
<text x="26.8" y="90.4" font-size="10.7" fill="#ffd8d0" stroke="#ffd8d0" text-anchor="start" textLength="39.9" lengthAdjust="spacingAndGlyphs" >max/min</text>
<text x="9.4" y="102.4" font-size="10.7" fill="#00f" stroke="#00f" text-anchor="start" textLength="58.2" lengthAdjust="spacingAndGlyphs" >odczuwana</text>
<text x="26.8" y="112.4" font-size="10.7" fill="#b0e0ff" stroke="#b0e0ff" text-anchor="start" textLength="39.9" lengthAdjust="spacingAndGlyphs" >max/min</text>
<text x="5.5" y="124.2" font-size="10.7" fill="#6a5acd" stroke="#6a5acd" text-anchor="start" textLength="88.0" lengthAdjust="spacingAndGlyphs" >Temp. punktu rosy</text>
<text x="5.5" y="141.8" font-size="10.7" fill="#f00" stroke="#f00" text-anchor="start" textLength="95.4" lengthAdjust="spacingAndGlyphs" >Opad powyżej skali</text>
<text x="5.5" y="155.1" font-size="10.7" fill="#e8501a" stroke="#e8501a" text-anchor="start" textLength="98.3" lengthAdjust="spacingAndGlyphs" >Wilgotność względna</text>
<text x="5.5" y="169.1" font-size="10.7" fill="#000" stroke="#000" text-anchor="start" textLength="85.5" lengthAdjust="spacingAndGlyphs" >Wystąpienie burzy</text>
<text x="5.5" y="183.1" font-size="10.7" fill="#00a000" stroke="#00a000" text-anchor="start" textLength="40.8" lengthAdjust="spacingAndGlyphs" >Deszcz:</text>
<text x="49.0" y="183.1" font-size="10.7" fill="#00a000" stroke="#00a000" text-anchor="start" textLength="20.3" lengthAdjust="spacingAndGlyphs" >max</text>
<text x="48.2" y="194.2" font-size="10.7" fill="#00a000" stroke="#00a000" text-anchor="start" textLength="30.5" lengthAdjust="spacingAndGlyphs" >średni</text>
<text x="5.5" y="205.3" font-size="10.7" fill="#1428c8" stroke="#1428c8" text-anchor="start" textLength="30.5" lengthAdjust="spacingAndGlyphs" >Śnieg:</text>
<text x="48.2" y="205.3" font-size="10.7" fill="#1428c8" stroke="#1428c8" text-anchor="start" textLength="20.3" lengthAdjust="spacingAndGlyphs" >max</text>
<text x="48.2" y="216.4" font-size="10.7" fill="#1428c8" stroke="#1428c8" text-anchor="start" textLength="30.5" lengthAdjust="spacingAndGlyphs" >średni</text>
<text x="4.6" y="228.8" font-size="10.7" fill="#f00" stroke="#f00" text-anchor="start" textLength="89.8" lengthAdjust="spacingAndGlyphs" >Wystąpienie opadu</text>
<text x="5.1" y="241.2" font-size="10.7" fill="#f00" stroke="#f00" text-anchor="start" textLength="72.6" lengthAdjust="spacingAndGlyphs" >konwekcyjnego</text>
<text x="4.3" y="267.3" font-size="10.7" fill="#000" stroke="#000" text-anchor="start" textLength="43.2" lengthAdjust="spacingAndGlyphs" >Ciśnienie</text>
<text x="4.3" y="280.5" font-size="10.7" fill="#000" stroke="#000" text-anchor="start" textLength="67.1" lengthAdjust="spacingAndGlyphs" >zredukowane</text>
<text x="4.3" y="293.3" font-size="10.7" fill="#000" stroke="#000" text-anchor="start" textLength="88.4" lengthAdjust="spacingAndGlyphs" >do poziomu morza</text>
<text x="4.6" y="322.5" font-size="10.7" fill="#000" textLength="66.8" lengthAdjust="spacingAndGlyphs">Wiatr na <tspan font-family="Liberation Serif, serif" font-size="11.5">10m:</tspan></text>
<text x="9.4" y="338.4" font-size="11.3" fill="#f00" stroke="#f00" text-anchor="start" textLength="101.2" lengthAdjust="spacingAndGlyphs" >poryw powyżej skali</text>
<text x="9.4" y="352.0" font-size="11.3" fill="#f00" stroke="#f00" text-anchor="start" textLength="95.2" lengthAdjust="spacingAndGlyphs" >max porywy wiatru</text>
<text x="9.4" y="371.7" font-size="11.3" fill="#00008b" stroke="#00008b" text-anchor="start" textLength="79.4" lengthAdjust="spacingAndGlyphs" >prędkość wiatru</text>
<text x="9.4" y="385.3" font-size="11.3" fill="#00008b" stroke="#00008b" text-anchor="start" textLength="89.3" lengthAdjust="spacingAndGlyphs" >w środku obszaru</text>
<text x="9.4" y="413.4" font-size="11.3" fill="#00008b" stroke="#00008b" text-anchor="start" textLength="74.4" lengthAdjust="spacingAndGlyphs" >kierunek wiatru</text>
<text x="5.5" y="433.4" font-size="10.7" fill="#b22222" stroke="#b22222" text-anchor="start" textLength="91.5" lengthAdjust="spacingAndGlyphs" >Wierzchołek chmur</text>
<text x="5.5" y="447.8" font-size="10.7" fill="#000" stroke="#000" text-anchor="start" textLength="86.3" lengthAdjust="spacingAndGlyphs" >Podstawa chmur*</text>
<text x="5.5" y="459.0" font-size="10.7" fill="#000" stroke="#000" text-anchor="start" textLength="48.3" lengthAdjust="spacingAndGlyphs" >o pokryciu</text>
<text x="10.1" y="472.1" font-size="10.7" fill="#000" stroke="#000" text-anchor="start" textLength="44.7" lengthAdjust="spacingAndGlyphs" >&gt; 7.9 okt.</text>
<text x="10.1" y="483.2" font-size="10.7" fill="#555" stroke="#555" text-anchor="start" textLength="44.7" lengthAdjust="spacingAndGlyphs" >&gt; 6.5 okt.</text>
<text x="10.1" y="494.5" font-size="10.7" fill="#999" stroke="#999" text-anchor="start" textLength="44.7" lengthAdjust="spacingAndGlyphs" >&gt; 4.5 okt.</text>
<text x="10.1" y="504.6" font-size="10.7" fill="#ccc" stroke="#ccc" text-anchor="start" textLength="44.7" lengthAdjust="spacingAndGlyphs" >&gt; 2.5 okt.</text>
<rect x="11.1" y="505.2" width="43.9" height="11.5" fill="#87cefa"/>
<text x="10.1" y="515.1" font-size="10.7" fill="#fff" stroke="#fff" text-anchor="start" textLength="44.7" lengthAdjust="spacingAndGlyphs" >&gt; 0.1 okt.</text>
<text x="5.5" y="529.9" font-size="10.7" fill="#ff8000" stroke="#ff8000" text-anchor="start" textLength="58.2" lengthAdjust="spacingAndGlyphs" >Widzialność</text>
<text x="5.5" y="547.0" font-size="10.7" fill="#000" stroke="#000" text-anchor="start" textLength="39.0" lengthAdjust="spacingAndGlyphs" >Chmury:</text>
<rect x="10.2" y="551" width="40.7" height="11.4" fill="#87cefa"/>
<text x="10.6" y="560.7" font-size="10.7" fill="#fff" stroke="#fff" text-anchor="start" textLength="40.6" lengthAdjust="spacingAndGlyphs" >wysokie</text>
<text x="9.4" y="573.1" font-size="10.7" fill="#999" stroke="#999" text-anchor="start" textLength="36.3" lengthAdjust="spacingAndGlyphs" >średnie</text>
<text x="9.4" y="585.1" font-size="10.7" fill="#444" stroke="#444" text-anchor="start" textLength="27.3" lengthAdjust="spacingAndGlyphs" >niskie</text>
<text x="9.4" y="596.5" font-size="10.7" fill="#222" stroke="#222" text-anchor="start" textLength="62.0" lengthAdjust="spacingAndGlyphs" >bardzo niskie</text>
<text x="5.6" y="608.6" font-size="10.7" fill="#ffb400" stroke="#ffb400" text-anchor="start" textLength="20.5" lengthAdjust="spacingAndGlyphs" >Mgła</text>
<text x="5.5" y="626.0" font-size="10.7" fill="#000" stroke="#000" text-anchor="start" textLength="132.6" lengthAdjust="spacingAndGlyphs" >Czas uniwersalny (UTC)</text>
<text x="4.6" y="651.6" font-size="9" fill="#000" stroke="#000" text-anchor="start" textLength="104.1" lengthAdjust="spacingAndGlyphs" font-weight="bold">*powyżej poziomu morza</text>
<text x="128" y="63.2" font-size="10.7" fill="#000" stroke="#000" text-anchor="end" >30</text>
<text x="266" y="63.2" font-size="10.7" fill="#000" stroke="#000" text-anchor="end" >30</text>
<text x="128" y="81" font-size="10.7" fill="#000" stroke="#000" text-anchor="end" >20</text>
<text x="266" y="81" font-size="10.7" fill="#000" stroke="#000" text-anchor="end" >20</text>
<text x="128" y="98.5" font-size="10.7" fill="#000" stroke="#000" text-anchor="end" >10</text>
<text x="266" y="98.5" font-size="10.7" fill="#000" stroke="#000" text-anchor="end" >10</text>
<text x="128" y="115.3" font-size="10.7" fill="#000" stroke="#000" text-anchor="end" >0</text>
<text x="266" y="115.3" font-size="10.7" fill="#000" stroke="#000" text-anchor="end" >0</text>
<text x="128" y="132.8" font-size="10.7" fill="#000" stroke="#000" text-anchor="end" >-10</text>
<text x="266" y="132.8" font-size="10.7" fill="#000" stroke="#000" text-anchor="end" >-10</text>
<text x="128" y="155" font-size="10.7" fill="#000" stroke="#000" text-anchor="end" >2.0</text>
<text x="128" y="171.7" font-size="10.7" fill="#000" stroke="#000" text-anchor="end" >1.5</text>
<text x="128" y="189.2" font-size="10.7" fill="#000" stroke="#000" text-anchor="end" >1.0</text>
<text x="128" y="207" font-size="10.7" fill="#000" stroke="#000" text-anchor="end" >0.5</text>
<text x="128" y="224" font-size="10.7" fill="#000" stroke="#000" text-anchor="end" >0.0</text>
<text x="253.7" y="154.3" font-size="10.7" fill="#e8501a" stroke="#e8501a" text-anchor="start" >96</text>
<text x="253.7" y="171.5" font-size="10.7" fill="#e8501a" stroke="#e8501a" text-anchor="start" >84</text>
<text x="253.7" y="189" font-size="10.7" fill="#e8501a" stroke="#e8501a" text-anchor="start" >73</text>
<text x="253.7" y="206.5" font-size="10.7" fill="#e8501a" stroke="#e8501a" text-anchor="start" >61</text>
<text x="253.7" y="224" font-size="10.7" fill="#e8501a" stroke="#e8501a" text-anchor="start" >50</text>
<text x="128" y="235.2" font-size="10.7" fill="#000" stroke="#000" text-anchor="end" >1018</text>
<text x="251" y="235.2" font-size="10.7" fill="#000" stroke="#000" text-anchor="start" >1018</text>
<text x="128" y="258.3" font-size="10.7" fill="#000" stroke="#000" text-anchor="end" >1016</text>
<text x="251" y="258.3" font-size="10.7" fill="#000" stroke="#000" text-anchor="start" >1016</text>
<text x="128" y="282.2" font-size="10.7" fill="#000" stroke="#000" text-anchor="end" >1014</text>
<text x="251" y="282.2" font-size="10.7" fill="#000" stroke="#000" text-anchor="start" >1014</text>
<text x="128" y="305.2" font-size="10.7" fill="#000" stroke="#000" text-anchor="end" >1012</text>
<text x="251" y="305.2" font-size="10.7" fill="#000" stroke="#000" text-anchor="start" >1012</text>
<text x="128" y="319.2" font-size="10.7" fill="#000" stroke="#000" text-anchor="end" >20</text>
<text x="128" y="338" font-size="10.7" fill="#000" stroke="#000" text-anchor="end" >15</text>
<text x="128" y="358.3" font-size="10.7" fill="#000" stroke="#000" text-anchor="end" >10</text>
<text x="128" y="377.3" font-size="10.7" fill="#000" stroke="#000" text-anchor="end" >5</text>
<text x="128" y="396.1" font-size="10.7" fill="#000" stroke="#000" text-anchor="end" >0</text>
<text x="251" y="319.2" font-size="10.7" fill="#000" stroke="#000" text-anchor="start" >72</text>
<text x="251" y="338" font-size="10.7" fill="#000" stroke="#000" text-anchor="start" >54</text>
<text x="251" y="358.3" font-size="10.7" fill="#000" stroke="#000" text-anchor="start" >36</text>
<text x="251" y="377.3" font-size="10.7" fill="#000" stroke="#000" text-anchor="start" >18</text>
<text x="254.3" y="396.1" font-size="10.7" fill="#000" stroke="#000" text-anchor="start" >0</text>
<text x="128" y="440" font-size="10.7" fill="#000" stroke="#000" text-anchor="end" >15.0</text>
<text x="128" y="460.1" font-size="10.7" fill="#000" stroke="#000" text-anchor="end" >7.0</text>
<text x="128" y="479.3" font-size="10.7" fill="#000" stroke="#000" text-anchor="end" >2.0</text>
<text x="128" y="498.9" font-size="10.7" fill="#000" stroke="#000" text-anchor="end" >0.5</text>
<text x="128" y="517.9" font-size="10.7" fill="#000" stroke="#000" text-anchor="end" >0.0</text>
<text x="251.5" y="439.4" font-size="10.7" fill="#ff8000" stroke="#ff8000" text-anchor="start" >100</text>
<text x="251.5" y="459.5" font-size="10.7" fill="#ff8000" stroke="#ff8000" text-anchor="start" >20</text>
<text x="251.5" y="478.7" font-size="10.7" fill="#ff8000" stroke="#ff8000" text-anchor="start" >5</text>
<text x="251.5" y="498.3" font-size="10.7" fill="#ff8000" stroke="#ff8000" text-anchor="start" >1</text>
<text x="251.5" y="517.2" font-size="10.7" fill="#ff8000" stroke="#ff8000" text-anchor="start" >0</text>
<text x="128" y="526.8" font-size="10.7" fill="#000" stroke="#000" text-anchor="end" >8</text>
<text x="128" y="546.9" font-size="10.7" fill="#000" stroke="#000" text-anchor="end" >6</text>
<text x="128" y="566" font-size="10.7" fill="#000" stroke="#000" text-anchor="end" >4</text>
<text x="128" y="585.4" font-size="10.7" fill="#000" stroke="#000" text-anchor="end" >2</text>
<text x="128" y="604.9" font-size="10.7" fill="#000" stroke="#000" text-anchor="end" >0</text>
<text x="251.5" y="526.6" font-size="10.7" fill="#ff8000" stroke="#ff8000" text-anchor="start" >1</text>
<text x="251.5" y="546.2" font-size="10.7" fill="#ff8000" stroke="#ff8000" text-anchor="start" >0.75</text>
<text x="251.5" y="565.3" font-size="10.7" fill="#ff8000" stroke="#ff8000" text-anchor="start" >0.5</text>
<text x="251.5" y="585" font-size="10.7" fill="#ff8000" stroke="#ff8000" text-anchor="start" >0.25</text>
<text x="251.5" y="604.3" font-size="10.7" fill="#ff8000" stroke="#ff8000" text-anchor="start" >0</text>
<text x="163.6" y="51" font-size="11" fill="#000" stroke="#000" text-anchor="middle" >20</text>
<text x="203.7" y="51" font-size="11" fill="#000" stroke="#000" text-anchor="middle" >02</text>
<text x="244.3" y="51" font-size="11" fill="#000" stroke="#000" text-anchor="middle" >08</text>
<text x="163.4" y="614.6" font-size="11" fill="#000" stroke="#000" text-anchor="middle" >18</text>
<text x="203.7" y="614.6" font-size="11" fill="#000" stroke="#000" text-anchor="middle" >00</text>
<text x="244.5" y="614.6" font-size="11" fill="#000" stroke="#000" text-anchor="middle" >06</text>
</svg>

<div id="banner">
<div class="t" style="top:23.8px;">Oficjalna aplikacja</div>
<div class="t" style="top:51.8px;letter-spacing:0.2px"><b>Meteo ICM</b> do pobrania</div>
<div class="t" style="top:79.8px;">w Google Play i App Store</div>
<svg width="540" height="120" viewBox="0 0 540 120" style="position:absolute;left:0;top:0">
 <!-- phone 2 (back right, map) -->
 <rect x="333.700" y="21" width="54" height="115" rx="9" fill="#161616" stroke="#4c4c48" stroke-width="0.9"/>
 <clipPath id="p2"><rect x="336.300" y="23.800" width="48.700" height="112" rx="6.500"/></clipPath>
 <g clip-path="url(#p2)">
  <rect x="336" y="23" width="50" height="110" fill="#40423d"/>
  <path d="M338 30 C345 26, 356 34, 352 44 S 340 50, 338 42Z" fill="#565850"/>
  <path d="M372 28 C380 28, 386 34, 384 44 S 374 50, 370 40Z" fill="#5a5c54"/>
  <path d="M368 62 C376 58, 384 66, 383 80 S 386 100, 378 112 S 364 104, 366 90 S 362 70, 368 62Z" fill="#8f886e"/>
  <path d="M371 70 C376 68, 380 76, 378 86 S 376 100, 372 96 S 368 78, 371 70Z" fill="#a59c7c"/>
  <path d="M350 66 C356 62, 362 70, 358 80 S 350 96, 346 86 S 344 70, 350 66Z" fill="#34362f"/>
  <path d="M340 96 C348 92, 358 100, 356 110 S 344 118, 340 110Z" fill="#2e302b"/>
  <path d="M360 50 C366 52, 368 60, 364 64 S 356 60, 360 50Z" fill="#6a6a5e"/>
  <rect x="377" y="104" width="7" height="14" fill="#d0d0cc" opacity="0.7"/>
 </g>
 <rect x="337.700" y="36.400" width="33.700" height="9.100" rx="1" fill="#c6c6c4"/>
 <circle cx="376" cy="39.500" r="3.600" fill="#ececec"/><circle cx="376" cy="39.500" r="1.300" fill="#555"/>
 <rect x="350.500" y="27" width="14.500" height="5.700" rx="2.850" fill="#050505"/>
 <!-- phone 1 (back left, dark) -->
 <rect x="272" y="4.500" width="55.700" height="130" rx="9" fill="#15161a" stroke="#4a4a46" stroke-width="0.9"/>
 <clipPath id="p1"><rect x="277.500" y="7.800" width="48.600" height="126" rx="6.500"/></clipPath>
 <g clip-path="url(#p1)">
  <rect x="277" y="7" width="50" height="53" fill="#0c2859"/>
  <path d="M277 30 C290 22, 310 26, 327 40 V60 H277Z" fill="#0e2f66" opacity="0.7"/>
  <rect x="277" y="60" width="50" height="75" fill="#0a0a0e"/>
  <rect x="281" y="62.700" width="9" height="22" rx="1" fill="#15161c"/><rect x="291.500" y="62.700" width="9" height="22" rx="1" fill="#15161c"/><rect x="302" y="62.700" width="9" height="22" rx="1" fill="#15161c"/>
  <rect x="281" y="88" width="40" height="9" rx="1" fill="#131319"/><rect x="281" y="100" width="40" height="9" rx="1" fill="#131319"/><rect x="281" y="112" width="40" height="9" rx="1" fill="#131319"/>
  <g fill="#8890a0"><rect x="283" y="65.500" width="4" height="1.300"/><rect x="293.500" y="65.500" width="4" height="1.300"/><rect x="283" y="80" width="3.500" height="1.300"/><rect x="293.500" y="80" width="3.500" height="1.300"/>
   <rect x="283" y="92" width="19" height="1.400"/><rect x="283" y="104" width="7" height="1.400"/><rect x="283" y="116" width="6" height="1.400"/></g>
  <circle cx="284.800" cy="73" r="1.800" fill="none" stroke="#2a5aa8" stroke-width="0.8"/><circle cx="295.300" cy="73" r="1.800" fill="none" stroke="#2a5aa8" stroke-width="0.8"/>
  <circle cx="319" cy="104.500" r="2" fill="none" stroke="#2a5aa8" stroke-width="0.8"/><circle cx="319" cy="116.500" r="2" fill="none" stroke="#2a5aa8" stroke-width="0.8"/>
 </g>
 <rect x="296" y="11.300" width="13.500" height="6" rx="3" fill="#020204"/>
 <rect x="280.500" y="18.500" width="36.500" height="11.500" rx="1.500" fill="#091326"/>
 <rect x="284" y="23.500" width="9" height="1.300" fill="#7f8aa0"/>
 <circle cx="321.400" cy="28.200" r="3" fill="#091326"/><path d="M319.900 28.200H322.900M321.400 26.700V29.700" stroke="#cfd6e4" stroke-width="0.7"/>
 <text x="302" y="45.700" font-size="8.600" fill="#eef2fa" font-family="Liberation Sans, sans-serif">2.5°</text>
 <path d="M291.500 41.500 a2.300 2.300 0 0 1 0.500 -4.500 a3 3 0 0 1 5.600 0.600 a2 2 0 0 1 -0.300 3.900Z" fill="none" stroke="#9fb4d6" stroke-width="0.7"/>
 <path d="M293 43.200l-0.700 1.600M295.500 43.200l-0.700 1.600" stroke="#9fb4d6" stroke-width="0.6"/>
 <rect x="290" y="51.500" width="9" height="4" rx="0.800" fill="#183a72"/><rect x="301" y="51.500" width="9" height="4" rx="0.800" fill="#183a72"/>
 <!-- phone 3 (front, white) -->
 <rect x="304" y="47.600" width="55.500" height="90" rx="9" fill="#141414" stroke="#50504c" stroke-width="0.9"/>
 <rect x="307.200" y="50.800" width="48.800" height="90" rx="6.500" fill="#fdfdfd"/>
 <rect x="322.300" y="52.400" width="13.700" height="5.800" rx="2.900" fill="#060606"/>
 <rect x="308.300" y="61.500" width="35.700" height="7.200" rx="1.200" fill="#2b2b2b"/>
 <rect x="313" y="64.600" width="7" height="1.100" fill="#aaa"/>
 <circle cx="348.600" cy="63.800" r="3" fill="#2b2b2b"/><circle cx="348.600" cy="63.800" r="1.200" fill="#ddd"/>
 <rect x="308.500" y="77.500" width="6" height="1.800" fill="#b8b8e8"/><rect x="343" y="76.500" width="8" height="2.500" fill="#c8c8f0"/>
 <g stroke="#d4d4d4" stroke-width="0.350"><path d="M311.400 82V118M318 82V118M324.500 82V118M331 82V118M337.500 82V118M344 82V118M350.500 82V118M311.400 96H350.500M311.400 100.500H350.500M311.400 105H350.500M311.400 109.500H350.500M311.400 114H350.500M311.400 118.500H350.500"/></g>
 <path d="M311.400 88.500 L316 87 L321 88.300 L327 87 L333 85.600 L340 86.200 L346 84.800 L350.500 85.500 V93.600 H311.400Z" fill="#4aa6d6"/>
 <path d="M311.400 88.500 L316 87 L321 88.300 L327 87 L333 85.600 L340 86.200 L346 84.800 L350.500 85.500 V88 L346 87.300 L340 88.600 L333 88 L327 89.500 L321 90.500 L316 89.400 L311.400 91Z" fill="#2c56a8"/>
 <path d="M311.400 88 L316 86.500 L321 87.800 L327 86.400 L333 85 L340 85.600 L346 84.200 L350.500 85" stroke="#d8323a" stroke-width="0.7" fill="none"/>
 <path d="M311.400 97.500 C313 100, 314 104, 315.500 105 C318 104, 320 97, 323 97 C327 97, 330 103, 334 104 C338 104.500, 342 99, 346 99 C348 99, 349.500 100, 350.500 100.500" stroke="#e87850" stroke-width="0.7" fill="none"/>
 <rect x="335.300" y="105" width="1.800" height="4" fill="#58b858"/><rect x="335.300" y="112" width="1.800" height="5.500" fill="#58b858"/><rect x="348.200" y="104.500" width="1.300" height="2.500" fill="#58b858"/>
 <!-- logo -->
 <path d="M435.400 84.800 C436 80.500, 433.500 76.800, 429.500 76.300 C426.500 76, 424.500 78.500, 423.500 80.800" fill="none" stroke="#fff" stroke-width="0.800" stroke-linecap="round"/>
 <path d="M423.500 80.800 C419.500 86.500, 418 93.500, 418.700 97.500 C419.300 101.200, 421 103.300, 423.500 102.700 C426.500 102, 428.500 100, 430.600 97.500 C427.500 99.600, 424.500 100.900, 422.800 99.800 C420.800 98.300, 420.300 93, 421.500 88 C422 85.500, 422.800 83, 423.500 80.800Z" fill="#fff"/>
 <text x="428.700" y="95.900" font-size="19.600" font-weight="bold" fill="#fff" font-family="Liberation Sans, sans-serif" textLength="74.500" lengthAdjust="spacingAndGlyphs">ıcmmeteo</text>
 <circle cx="430.900" cy="83.300" r="1.700" fill="#fff"/>
 <rect x="507" y="80.800" width="21" height="20.700" rx="1.600" fill="#fff"/>
 <text x="509.600" y="95.900" font-size="10.600" font-weight="bold" fill="#1c55a6" font-family="Liberation Sans, sans-serif" textLength="10.400" lengthAdjust="spacingAndGlyphs">M</text>
 <circle cx="523.300" cy="87.300" r="1.300" fill="none" stroke="#1c55a6" stroke-width="0.800"/>
</svg>
</div>

</body></html>
